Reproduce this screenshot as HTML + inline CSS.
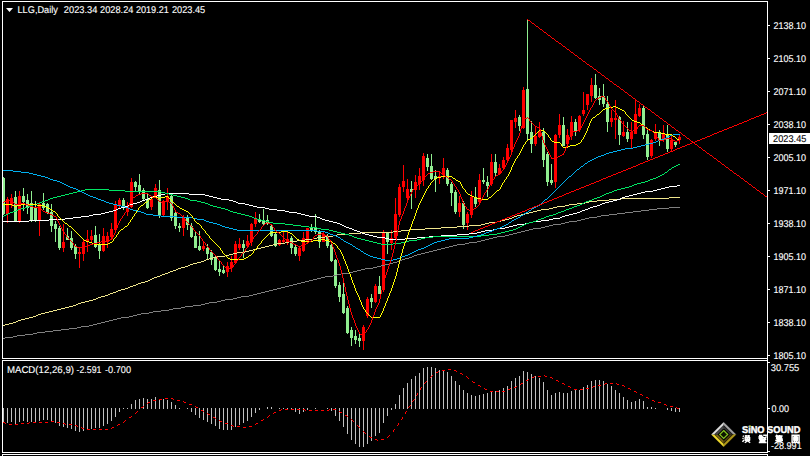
<!DOCTYPE html>
<html><head><meta charset="utf-8"><title>LLG Daily</title>
<style>
html,body{margin:0;padding:0;background:#000;}
body{width:810px;height:456px;overflow:hidden;position:relative;font-family:"Liberation Sans",sans-serif;}
svg{position:absolute;left:0;top:0;}
.t{position:absolute;color:#fff;font-size:9px;line-height:10px;height:10px;white-space:pre;font-family:"Liberation Sans",sans-serif;}
.b{font-weight:bold;}
</style></head><body>
<svg width="810" height="456" viewBox="0 0 810 456" shape-rendering="crispEdges">
<rect width="810" height="456" fill="#000"/>
<defs><clipPath id="cm"><rect x="3" y="2" width="764" height="356"/></clipPath><clipPath id="cd"><rect x="3" y="361" width="764" height="91"/></clipPath></defs>
<g clip-path="url(#cm)">
<path fill="#90ee90" d="M3 177h1v38h-1zM15 191h1v31h-1zM23 188h1v23h-1zM27 194h1v20h-1zM31 191h1v31h-1zM35 201h1v21h-1zM43 193h1v17h-1zM47 203h1v11h-1zM51 204h1v28h-1zM55 221h1v21h-1zM59 226h1v24h-1zM67 228h1v12h-1zM71 231h1v19h-1zM75 244h1v15h-1zM95 226h1v22h-1zM99 234h1v25h-1zM123 198h1v12h-1zM135 181h1v11h-1zM139 174h1v20h-1zM143 188h1v12h-1zM147 194h1v15h-1zM159 180h1v38h-1zM171 195h1v26h-1zM175 212h1v17h-1zM179 223h1v9h-1zM187 215h1v15h-1zM191 223h1v15h-1zM195 232h1v16h-1zM199 231h1v20h-1zM207 244h1v15h-1zM211 250h1v15h-1zM215 255h1v16h-1zM219 260h1v16h-1zM223 266h1v8h-1zM243 240h1v18h-1zM259 214h1v9h-1zM263 209h1v16h-1zM267 215h1v10h-1zM271 224h1v13h-1zM275 232h1v15h-1zM291 236h1v18h-1zM295 245h1v11h-1zM311 224h1v8h-1zM315 214h1v20h-1zM319 230h1v18h-1zM327 234h1v14h-1zM331 244h1v18h-1zM335 259h1v29h-1zM339 282h1v20h-1zM343 281h1v33h-1zM347 306h1v28h-1zM351 327h1v19h-1zM355 330h1v14h-1zM359 333h1v14h-1zM371 294h1v14h-1zM379 276h1v18h-1zM387 232h1v22h-1zM411 181h1v28h-1zM427 154h1v17h-1zM431 154h1v26h-1zM435 170h1v22h-1zM447 168h1v18h-1zM451 182h1v24h-1zM455 190h1v24h-1zM463 201h1v28h-1zM475 187h1v20h-1zM483 168h1v16h-1zM487 176h1v21h-1zM495 154h1v22h-1zM519 115h1v16h-1zM527 19h1v121h-1zM531 121h1v32h-1zM543 128h1v39h-1zM547 152h1v34h-1zM551 164h1v21h-1zM563 117h1v29h-1zM575 119h1v17h-1zM595 74h1v25h-1zM599 88h1v17h-1zM603 84h1v23h-1zM607 96h1v36h-1zM619 116h1v29h-1zM627 122h1v20h-1zM643 106h1v33h-1zM647 130h1v30h-1zM659 130h1v16h-1zM667 125h1v27h-1zM675 141h1v6h-1zM2 178h3v36h-3zM14 197h3v24h-3zM22 196h3v6h-3zM26 200h3v8h-3zM30 203h3v17h-3zM34 208h3v12h-3zM42 203h3v5h-3zM46 204h3v9h-3zM50 212h3v14h-3zM54 224h3v5h-3zM58 228h3v20h-3zM66 236h3v4h-3zM70 238h3v10h-3zM74 246h3v8h-3zM94 235h3v12h-3zM98 245h3v6h-3zM122 200h3v6h-3zM134 182h3v5h-3zM138 185h3v6h-3zM142 190h3v9h-3zM146 199h3v9h-3zM158 190h3v25h-3zM170 196h3v22h-3zM174 213h3v13h-3zM178 226h3v2h-3zM186 218h3v7h-3zM190 226h3v11h-3zM194 236h3v12h-3zM198 246h3v4h-3zM206 248h3v6h-3zM210 252h3v8h-3zM214 258h3v12h-3zM218 269h3v3h-3zM222 270h3v3h-3zM242 244h3v4h-3zM258 219h3v3h-3zM262 220h3v4h-3zM266 220h3v4h-3zM270 226h3v10h-3zM274 234h3v12h-3zM290 238h3v10h-3zM294 247h3v7h-3zM310 228h3v3h-3zM314 228h3v4h-3zM318 232h3v10h-3zM326 236h3v10h-3zM330 245h3v16h-3zM334 260h3v26h-3zM338 285h3v12h-3zM342 294h3v19h-3zM346 308h3v25h-3zM350 330h3v8h-3zM354 336h3v4h-3zM358 338h3v3h-3zM370 298h3v4h-3zM378 286h3v8h-3zM386 232h3v10h-3zM410 189h3v3h-3zM426 158h3v9h-3zM430 166h3v13h-3zM434 176h3v3h-3zM446 170h3v14h-3zM450 184h3v9h-3zM454 192h3v20h-3zM462 203h3v22h-3zM474 198h3v6h-3zM482 180h3v2h-3zM486 182h3v4h-3zM494 162h3v11h-3zM518 117h3v9h-3zM526 89h3v45h-3zM530 132h3v12h-3zM542 132h3v28h-3zM546 154h3v28h-3zM550 180h3v3h-3zM562 125h3v21h-3zM574 122h3v10h-3zM594 85h3v13h-3zM598 96h3v4h-3zM602 96h3v8h-3zM606 104h3v18h-3zM618 117h3v18h-3zM626 132h3v7h-3zM642 108h3v27h-3zM646 134h3v23h-3zM658 132h3v8h-3zM666 134h3v15h-3zM674 142h3v3h-3z"/>
<path fill="#ff0000" d="M7 197h1v26h-1zM11 194h1v14h-1zM19 191h1v32h-1zM39 202h1v34h-1zM63 224h1v28h-1zM79 248h1v20h-1zM83 239h1v22h-1zM87 230h1v22h-1zM91 230h1v12h-1zM103 228h1v24h-1zM107 232h1v16h-1zM111 223h1v16h-1zM115 201h1v31h-1zM119 198h1v10h-1zM127 202h1v14h-1zM131 178h1v30h-1zM151 198h1v12h-1zM155 184h1v14h-1zM163 200h1v17h-1zM167 188h1v22h-1zM183 215h1v21h-1zM203 241h1v10h-1zM227 262h1v15h-1zM231 256h1v16h-1zM235 241h1v23h-1zM239 238h1v12h-1zM247 235h1v13h-1zM251 223h1v23h-1zM255 212h1v15h-1zM279 239h1v7h-1zM283 231h1v12h-1zM287 231h1v14h-1zM299 246h1v15h-1zM303 232h1v20h-1zM307 228h1v15h-1zM323 232h1v10h-1zM363 325h1v25h-1zM367 297h1v21h-1zM375 284h1v19h-1zM383 230h1v62h-1zM391 230h1v20h-1zM395 198h1v42h-1zM399 184h1v33h-1zM403 165h1v27h-1zM407 179h1v21h-1zM415 175h1v23h-1zM419 168h1v22h-1zM423 153h1v33h-1zM439 171h1v13h-1zM443 158h1v21h-1zM459 196h1v21h-1zM467 212h1v18h-1zM471 191h1v27h-1zM479 174h1v30h-1zM491 154h1v32h-1zM499 164h1v11h-1zM503 157h1v13h-1zM507 144h1v18h-1zM511 120h1v32h-1zM515 110h1v18h-1zM523 87h1v42h-1zM535 126h1v20h-1zM539 122h1v16h-1zM555 134h1v54h-1zM559 114h1v24h-1zM567 129h1v18h-1zM571 116h1v24h-1zM579 115h1v17h-1zM583 92h1v24h-1zM587 94h1v16h-1zM591 78h1v24h-1zM611 110h1v17h-1zM615 100h1v39h-1zM623 121h1v16h-1zM631 122h1v26h-1zM635 100h1v34h-1zM639 104h1v13h-1zM651 139h1v19h-1zM655 124h1v17h-1zM663 125h1v17h-1zM671 136h1v16h-1zM679 134h1v10h-1zM6 199h3v15h-3zM10 198h3v7h-3zM18 196h3v26h-3zM38 204h3v17h-3zM62 242h3v6h-3zM78 252h3v2h-3zM82 242h3v12h-3zM86 239h3v3h-3zM90 236h3v4h-3zM102 236h3v15h-3zM106 236h3v6h-3zM110 229h3v8h-3zM114 204h3v26h-3zM118 200h3v6h-3zM126 207h3v5h-3zM130 182h3v25h-3zM150 199h3v8h-3zM154 188h3v8h-3zM162 201h3v14h-3zM166 196h3v6h-3zM182 218h3v10h-3zM202 246h3v3h-3zM226 266h3v6h-3zM230 262h3v6h-3zM234 244h3v19h-3zM238 244h3v4h-3zM246 241h3v5h-3zM250 224h3v18h-3zM254 218h3v6h-3zM278 240h3v5h-3zM282 240h3v2h-3zM286 239h3v3h-3zM298 248h3v8h-3zM302 238h3v13h-3zM306 228h3v14h-3zM322 234h3v8h-3zM362 327h3v14h-3zM366 299h3v17h-3zM374 286h3v16h-3zM382 232h3v58h-3zM390 238h3v5h-3zM394 214h3v24h-3zM398 187h3v28h-3zM402 181h3v6h-3zM406 189h3v9h-3zM414 182h3v8h-3zM418 176h3v8h-3zM422 156h3v24h-3zM438 176h3v2h-3zM442 168h3v7h-3zM458 203h3v9h-3zM466 214h3v9h-3zM470 197h3v18h-3zM478 180h3v22h-3zM490 162h3v22h-3zM498 168h3v6h-3zM502 160h3v8h-3zM506 148h3v12h-3zM510 120h3v30h-3zM514 118h3v4h-3zM522 90h3v38h-3zM534 136h3v8h-3zM538 132h3v5h-3zM554 135h3v47h-3zM558 125h3v10h-3zM566 135h3v9h-3zM570 122h3v14h-3zM578 116h3v14h-3zM582 110h3v4h-3zM586 94h3v11h-3zM590 85h3v11h-3zM610 118h3v4h-3zM614 118h3v2h-3zM622 132h3v4h-3zM630 132h3v7h-3zM634 114h3v20h-3zM638 108h3v8h-3zM650 140h3v16h-3zM654 132h3v7h-3zM662 134h3v6h-3zM670 140h3v9h-3zM678 137h3v3h-3z"/>
<path fill="#808080" d="M669 207h11v1h-11zM657 208h12v1h-12zM649 209h8v1h-8zM641 210h8v1h-8zM633 211h8v1h-8zM625 212h8v1h-8zM617 213h8v1h-8zM609 214h8v1h-8zM601 215h8v1h-8zM597 216h4v1h-4zM589 217h8v1h-8zM585 218h4v1h-4zM581 219h4v1h-4zM577 220h4v1h-4zM569 221h8v1h-8zM565 222h4v1h-4zM561 223h4v1h-4zM553 224h8v1h-8zM549 225h4v1h-4zM545 226h4v1h-4zM541 227h4v1h-4zM533 228h8v1h-8zM529 229h4v1h-4zM525 230h4v1h-4zM521 231h4v1h-4zM517 232h4v1h-4zM513 233h4v1h-4zM509 234h4v1h-4zM505 235h4v1h-4zM497 236h8v1h-8zM493 237h4v1h-4zM489 238h4v1h-4zM485 239h4v1h-4zM481 240h4v1h-4zM477 241h4v1h-4zM469 242h8v1h-8zM465 243h4v1h-4zM457 244h8v1h-8zM453 245h4v1h-4zM449 246h4v1h-4zM445 247h4v1h-4zM441 248h4v1h-4zM437 249h4v1h-4zM433 250h4v1h-4zM429 251h4v1h-4zM425 252h4v1h-4zM421 253h4v1h-4zM417 254h4v1h-4zM414 255h3v1h-3zM412 256h2v1h-2zM409 257h3v1h-3zM405 258h4v1h-4zM402 259h3v1h-3zM400 260h2v1h-2zM397 261h3v1h-3zM393 262h4v1h-4zM389 263h4v1h-4zM385 264h4v1h-4zM381 265h4v1h-4zM377 266h4v1h-4zM373 267h4v1h-4zM365 268h8v1h-8zM361 269h4v1h-4zM357 270h4v1h-4zM353 271h4v1h-4zM349 272h4v1h-4zM341 273h8v1h-8zM337 274h4v1h-4zM333 275h4v1h-4zM325 276h8v1h-8zM321 277h4v1h-4zM317 278h4v1h-4zM313 279h4v1h-4zM309 280h4v1h-4zM305 281h4v1h-4zM301 282h4v1h-4zM297 283h4v1h-4zM293 284h4v1h-4zM289 285h4v1h-4zM285 286h4v1h-4zM281 287h4v1h-4zM277 288h4v1h-4zM273 289h4v1h-4zM269 290h4v1h-4zM265 291h4v1h-4zM261 292h4v1h-4zM257 293h4v1h-4zM253 294h4v1h-4zM249 295h4v1h-4zM241 296h8v1h-8zM237 297h4v1h-4zM233 298h4v1h-4zM225 299h8v1h-8zM221 300h4v1h-4zM217 301h4v1h-4zM209 302h8v1h-8zM205 303h4v1h-4zM201 304h4v1h-4zM193 305h8v1h-8zM185 306h8v1h-8zM181 307h4v1h-4zM173 308h8v1h-8zM169 309h4v1h-4zM161 310h8v1h-8zM153 311h8v1h-8zM149 312h4v1h-4zM141 313h8v1h-8zM137 314h4v1h-4zM133 315h4v1h-4zM129 316h4v1h-4zM121 317h8v1h-8zM117 318h4v1h-4zM113 319h4v1h-4zM109 320h4v1h-4zM105 321h4v1h-4zM101 322h4v1h-4zM97 323h4v1h-4zM93 324h4v1h-4zM89 325h4v1h-4zM81 326h8v1h-8zM77 327h4v1h-4zM69 328h8v1h-8zM61 329h8v1h-8zM53 330h8v1h-8zM45 331h8v1h-8zM37 332h8v1h-8zM33 333h4v1h-4zM25 334h8v1h-8zM17 335h8v1h-8zM13 336h4v1h-4zM5 337h8v1h-8zM3 338h2v1h-2z"/>
<path fill="#f0e68c" d="M669 197h11v1h-11zM621 198h48v1h-48zM609 199h12v1h-12zM597 200h12v1h-12zM589 201h8v1h-8zM585 202h4v1h-4zM577 203h8v1h-8zM569 204h8v1h-8zM565 205h4v1h-4zM557 206h8v1h-8zM553 207h4v1h-4zM549 208h4v1h-4zM541 209h8v1h-8zM537 210h4v1h-4zM533 211h4v1h-4zM529 212h4v1h-4zM525 213h4v1h-4zM521 214h4v1h-4zM517 215h4v1h-4zM514 216h3v1h-3zM512 217h2v1h-2zM509 218h3v1h-3zM505 219h4v1h-4zM501 220h4v1h-4zM497 221h4v1h-4zM489 222h8v1h-8zM485 223h4v1h-4zM481 224h4v1h-4zM469 225h12v1h-12zM457 226h12v1h-12zM441 227h16v1h-16zM425 228h16v1h-16zM409 229h16v1h-16zM401 230h8v1h-8zM393 231h8v1h-8zM361 232h32v1h-32zM349 233h12v1h-12zM337 234h12v1h-12zM333 235h4v1h-4zM325 236h8v1h-8zM317 237h8v1h-8zM313 238h4v1h-4zM305 239h8v1h-8zM297 240h8v1h-8zM289 241h8v1h-8zM285 242h4v1h-4zM277 243h8v1h-8zM273 244h4v1h-4zM269 245h4v1h-4zM265 246h4v1h-4zM261 247h4v1h-4zM257 248h4v1h-4zM253 249h4v1h-4zM249 250h4v1h-4zM245 251h4v1h-4zM237 252h8v1h-8zM233 253h4v1h-4zM229 254h4v1h-4zM225 255h4v1h-4zM217 256h8v1h-8zM213 257h4v1h-4zM209 258h4v1h-4zM206 259h3v1h-3zM204 260h2v1h-2zM201 261h3v1h-3zM197 262h4v1h-4zM193 263h4v1h-4zM190 264h3v1h-3zM188 265h2v1h-2zM185 266h3v1h-3zM181 267h4v1h-4zM178 268h3v1h-3zM176 269h2v1h-2zM173 270h3v1h-3zM170 271h3v1h-3zM168 272h2v1h-2zM165 273h3v1h-3zM162 274h3v1h-3zM160 275h2v1h-2zM157 276h3v1h-3zM154 277h3v1h-3zM152 278h2v1h-2zM150 279h2v1h-2zM148 280h2v1h-2zM145 281h3v1h-3zM141 282h4v1h-4zM138 283h3v1h-3zM136 284h2v1h-2zM133 285h3v1h-3zM130 286h3v1h-3zM128 287h2v1h-2zM125 288h3v1h-3zM121 289h4v1h-4zM118 290h3v1h-3zM116 291h2v1h-2zM113 292h3v1h-3zM110 293h3v1h-3zM108 294h2v1h-2zM105 295h3v1h-3zM101 296h4v1h-4zM98 297h3v1h-3zM96 298h2v1h-2zM93 299h3v1h-3zM89 300h4v1h-4zM85 301h4v1h-4zM81 302h4v1h-4zM78 303h3v1h-3zM76 304h2v1h-2zM73 305h3v1h-3zM69 306h4v1h-4zM65 307h4v1h-4zM61 308h4v1h-4zM57 309h4v1h-4zM53 310h4v1h-4zM49 311h4v1h-4zM45 312h4v1h-4zM41 313h4v1h-4zM38 314h3v1h-3zM36 315h2v1h-2zM33 316h3v1h-3zM29 317h4v1h-4zM25 318h4v1h-4zM21 319h4v1h-4zM18 320h3v1h-3zM16 321h2v1h-2zM13 322h3v1h-3zM9 323h4v1h-4zM5 324h4v1h-4zM3 325h2v1h-2z"/>
<path fill="#ffffff" d="M677 185h3v1h-3zM669 186h8v1h-8zM665 187h4v1h-4zM661 188h4v1h-4zM657 189h4v1h-4zM653 190h4v1h-4zM645 191h8v1h-8zM641 192h4v1h-4zM165 193h24v1h-24zM637 193h4v1h-4zM161 194h4v1h-4zM189 194h16v1h-16zM633 194h4v1h-4zM157 195h4v1h-4zM205 195h4v1h-4zM629 195h4v1h-4zM153 196h4v1h-4zM209 196h4v1h-4zM625 196h4v1h-4zM150 197h3v1h-3zM213 197h4v1h-4zM622 197h3v1h-3zM148 198h2v1h-2zM217 198h4v1h-4zM620 198h2v1h-2zM145 199h3v1h-3zM221 199h8v1h-8zM617 199h3v1h-3zM142 200h3v1h-3zM229 200h4v1h-4zM613 200h4v1h-4zM140 201h2v1h-2zM233 201h3v1h-3zM609 201h4v1h-4zM137 202h3v1h-3zM236 202h2v1h-2zM605 202h4v1h-4zM133 203h4v1h-4zM238 203h7v1h-7zM602 203h3v1h-3zM130 204h3v1h-3zM245 204h4v1h-4zM600 204h2v1h-2zM128 205h2v1h-2zM249 205h4v1h-4zM597 205h3v1h-3zM125 206h3v1h-3zM253 206h4v1h-4zM593 206h4v1h-4zM121 207h4v1h-4zM257 207h8v1h-8zM590 207h3v1h-3zM118 208h3v1h-3zM265 208h4v1h-4zM588 208h2v1h-2zM116 209h2v1h-2zM269 209h8v1h-8zM585 209h3v1h-3zM113 210h3v1h-3zM277 210h8v1h-8zM582 210h3v1h-3zM109 211h4v1h-4zM285 211h4v1h-4zM580 211h2v1h-2zM105 212h4v1h-4zM289 212h8v1h-8zM577 212h3v1h-3zM101 213h4v1h-4zM297 213h4v1h-4zM573 213h4v1h-4zM93 214h8v1h-8zM301 214h4v1h-4zM569 214h4v1h-4zM89 215h4v1h-4zM305 215h4v1h-4zM565 215h4v1h-4zM81 216h8v1h-8zM309 216h8v1h-8zM562 216h3v1h-3zM73 217h8v1h-8zM317 217h3v1h-3zM560 217h2v1h-2zM65 218h8v1h-8zM320 218h2v1h-2zM553 218h7v1h-7zM49 219h16v1h-16zM322 219h3v1h-3zM549 219h4v1h-4zM29 220h20v1h-20zM325 220h4v1h-4zM541 220h8v1h-8zM3 221h26v1h-26zM329 221h4v1h-4zM533 221h8v1h-8zM333 222h4v1h-4zM529 222h4v1h-4zM337 223h3v1h-3zM525 223h4v1h-4zM340 224h2v1h-2zM517 224h8v1h-8zM342 225h2v1h-2zM513 225h4v1h-4zM344 226h2v1h-2zM509 226h4v1h-4zM346 227h3v1h-3zM505 227h4v1h-4zM349 228h3v1h-3zM497 228h8v1h-8zM352 229h2v1h-2zM493 229h4v1h-4zM354 230h3v1h-3zM485 230h8v1h-8zM357 231h3v1h-3zM481 231h4v1h-4zM360 232h2v1h-2zM477 232h4v1h-4zM362 233h3v1h-3zM469 233h8v1h-8zM365 234h4v1h-4zM457 234h12v1h-12zM369 235h4v1h-4zM441 235h16v1h-16zM373 236h4v1h-4zM429 236h12v1h-12zM377 237h8v1h-8zM417 237h12v1h-12zM385 238h4v1h-4zM405 238h12v1h-12zM389 239h16v1h-16z"/>
<path fill="#00e664" d="M678 164h2v1h-2zM676 165h2v1h-2zM674 166h2v1h-2zM672 167h2v1h-2zM671 168h1v1h-1zM669 169h2v1h-2zM668 170h1v1h-1zM667 171h1v1h-1zM665 172h2v1h-2zM664 173h1v1h-1zM662 174h2v1h-2zM660 175h2v1h-2zM658 176h2v1h-2zM656 177h2v1h-2zM653 178h3v1h-3zM650 179h3v1h-3zM648 180h2v1h-2zM645 181h3v1h-3zM641 182h4v1h-4zM637 183h4v1h-4zM634 184h3v1h-3zM632 185h2v1h-2zM629 186h3v1h-3zM625 187h4v1h-4zM621 188h4v1h-4zM85 189h24v1h-24zM617 189h4v1h-4zM81 190h4v1h-4zM109 190h16v1h-16zM614 190h3v1h-3zM77 191h4v1h-4zM125 191h36v1h-36zM612 191h2v1h-2zM73 192h4v1h-4zM161 192h4v1h-4zM609 192h3v1h-3zM69 193h4v1h-4zM165 193h4v1h-4zM606 193h3v1h-3zM65 194h4v1h-4zM169 194h4v1h-4zM604 194h2v1h-2zM61 195h4v1h-4zM173 195h4v1h-4zM602 195h2v1h-2zM57 196h4v1h-4zM177 196h4v1h-4zM600 196h2v1h-2zM53 197h4v1h-4zM181 197h4v1h-4zM597 197h3v1h-3zM50 198h3v1h-3zM185 198h3v1h-3zM594 198h3v1h-3zM48 199h2v1h-2zM188 199h2v1h-2zM592 199h2v1h-2zM45 200h3v1h-3zM190 200h7v1h-7zM589 200h3v1h-3zM42 201h3v1h-3zM197 201h4v1h-4zM586 201h3v1h-3zM40 202h2v1h-2zM201 202h4v1h-4zM584 202h2v1h-2zM37 203h3v1h-3zM205 203h3v1h-3zM582 203h2v1h-2zM33 204h4v1h-4zM208 204h2v1h-2zM580 204h2v1h-2zM30 205h3v1h-3zM210 205h3v1h-3zM577 205h3v1h-3zM28 206h2v1h-2zM213 206h4v1h-4zM574 206h3v1h-3zM25 207h3v1h-3zM217 207h4v1h-4zM572 207h2v1h-2zM21 208h4v1h-4zM221 208h4v1h-4zM569 208h3v1h-3zM18 209h3v1h-3zM225 209h3v1h-3zM566 209h3v1h-3zM16 210h2v1h-2zM228 210h2v1h-2zM564 210h2v1h-2zM13 211h3v1h-3zM230 211h3v1h-3zM561 211h3v1h-3zM10 212h3v1h-3zM233 212h4v1h-4zM558 212h3v1h-3zM8 213h2v1h-2zM237 213h4v1h-4zM556 213h2v1h-2zM6 214h2v1h-2zM241 214h4v1h-4zM553 214h3v1h-3zM4 215h2v1h-2zM245 215h4v1h-4zM549 215h4v1h-4zM3 216h1v1h-1zM249 216h3v1h-3zM546 216h3v1h-3zM252 217h2v1h-2zM544 217h2v1h-2zM254 218h3v1h-3zM541 218h3v1h-3zM257 219h4v1h-4zM538 219h3v1h-3zM261 220h4v1h-4zM536 220h2v1h-2zM265 221h4v1h-4zM533 221h3v1h-3zM269 222h4v1h-4zM529 222h4v1h-4zM273 223h12v1h-12zM526 223h3v1h-3zM285 224h8v1h-8zM524 224h2v1h-2zM293 225h8v1h-8zM522 225h2v1h-2zM301 226h8v1h-8zM520 226h2v1h-2zM309 227h8v1h-8zM518 227h2v1h-2zM317 228h4v1h-4zM516 228h2v1h-2zM321 229h8v1h-8zM513 229h3v1h-3zM329 230h4v1h-4zM509 230h4v1h-4zM333 231h4v1h-4zM505 231h4v1h-4zM337 232h4v1h-4zM501 232h4v1h-4zM341 233h4v1h-4zM497 233h4v1h-4zM345 234h4v1h-4zM489 234h8v1h-8zM349 235h3v1h-3zM481 235h8v1h-8zM352 236h2v1h-2zM433 236h48v1h-48zM354 237h3v1h-3zM425 237h8v1h-8zM357 238h4v1h-4zM421 238h4v1h-4zM361 239h4v1h-4zM417 239h4v1h-4zM365 240h4v1h-4zM409 240h8v1h-8zM369 241h4v1h-4zM405 241h4v1h-4zM373 242h4v1h-4zM401 242h4v1h-4zM377 243h4v1h-4zM393 243h8v1h-8zM381 244h12v1h-12z"/>
<path fill="#00b0f0" d="M673 134h7v1h-7zM670 135h3v1h-3zM668 136h2v1h-2zM666 137h2v1h-2zM664 138h2v1h-2zM661 139h3v1h-3zM658 140h3v1h-3zM656 141h2v1h-2zM653 142h3v1h-3zM649 143h4v1h-4zM645 144h4v1h-4zM641 145h4v1h-4zM637 146h4v1h-4zM633 147h4v1h-4zM625 148h8v1h-8zM621 149h4v1h-4zM617 150h4v1h-4zM613 151h4v1h-4zM609 152h4v1h-4zM606 153h3v1h-3zM604 154h2v1h-2zM601 155h3v1h-3zM598 156h3v1h-3zM596 157h2v1h-2zM594 158h2v1h-2zM592 159h2v1h-2zM590 160h2v1h-2zM588 161h2v1h-2zM587 162h1v1h-1zM585 163h2v1h-2zM584 164h1v1h-1zM583 165h1v1h-1zM581 166h2v1h-2zM580 167h1v1h-1zM579 168h1v1h-1zM577 169h2v1h-2zM3 170h10v1h-10zM576 170h1v1h-1zM13 171h8v1h-8zM575 171h1v1h-1zM21 172h8v1h-8zM574 172h1v1h-1zM29 173h4v1h-4zM573 173h1v1h-1zM33 174h4v1h-4zM572 174h1v1h-1zM37 175h4v1h-4zM571 175h1v1h-1zM41 176h4v1h-4zM569 176h2v1h-2zM45 177h3v1h-3zM568 177h1v1h-1zM48 178h2v1h-2zM567 178h1v1h-1zM50 179h3v1h-3zM566 179h1v1h-1zM53 180h4v1h-4zM565 180h1v1h-1zM57 181h3v1h-3zM564 181h1v1h-1zM60 182h2v1h-2zM563 182h1v1h-1zM62 183h2v1h-2zM562 183h1v1h-1zM64 184h2v1h-2zM561 184h1v1h-1zM66 185h2v1h-2zM560 185h1v1h-1zM68 186h2v1h-2zM559 186h1v1h-1zM70 187h3v1h-3zM558 187h1v1h-1zM73 188h3v1h-3zM557 188h1v1h-1zM76 189h2v1h-2zM556 189h1v1h-1zM78 190h2v1h-2zM555 190h1v1h-1zM80 191h2v1h-2zM554 191h1v1h-1zM82 192h2v1h-2zM553 192h1v1h-1zM84 193h2v1h-2zM552 193h1v1h-1zM86 194h2v1h-2zM551 194h1v1h-1zM88 195h2v1h-2zM550 195h1v1h-1zM90 196h3v1h-3zM549 196h1v1h-1zM93 197h3v1h-3zM548 197h1v1h-1zM96 198h2v1h-2zM547 198h1v1h-1zM98 199h3v1h-3zM545 199h2v1h-2zM101 200h3v1h-3zM544 200h1v1h-1zM104 201h2v1h-2zM543 201h1v1h-1zM106 202h3v1h-3zM542 202h1v1h-1zM109 203h4v1h-4zM541 203h1v1h-1zM113 204h4v1h-4zM540 204h1v1h-1zM117 205h4v1h-4zM538 205h2v1h-2zM121 206h4v1h-4zM536 206h2v1h-2zM125 207h3v1h-3zM534 207h2v1h-2zM128 208h2v1h-2zM532 208h2v1h-2zM130 209h3v1h-3zM531 209h1v1h-1zM133 210h4v1h-4zM529 210h2v1h-2zM137 211h4v1h-4zM528 211h1v1h-1zM141 212h3v1h-3zM526 212h2v1h-2zM144 213h2v1h-2zM524 213h2v1h-2zM146 214h7v1h-7zM523 214h1v1h-1zM153 215h8v1h-8zM521 215h2v1h-2zM161 216h16v1h-16zM520 216h1v1h-1zM177 217h16v1h-16zM518 217h2v1h-2zM193 218h4v1h-4zM516 218h2v1h-2zM197 219h7v1h-7zM514 219h2v1h-2zM204 220h2v1h-2zM512 220h2v1h-2zM206 221h3v1h-3zM511 221h1v1h-1zM209 222h4v1h-4zM509 222h2v1h-2zM213 223h4v1h-4zM508 223h1v1h-1zM217 224h3v1h-3zM506 224h2v1h-2zM220 225h2v1h-2zM504 225h2v1h-2zM222 226h3v1h-3zM502 226h2v1h-2zM225 227h4v1h-4zM500 227h2v1h-2zM229 228h4v1h-4zM497 228h3v1h-3zM233 229h4v1h-4zM494 229h3v1h-3zM237 230h80v1h-80zM492 230h2v1h-2zM317 231h8v1h-8zM489 231h3v1h-3zM325 232h3v1h-3zM486 232h3v1h-3zM328 233h2v1h-2zM484 233h2v1h-2zM330 234h3v1h-3zM481 234h3v1h-3zM333 235h3v1h-3zM477 235h4v1h-4zM336 236h2v1h-2zM473 236h4v1h-4zM338 237h2v1h-2zM469 237h4v1h-4zM340 238h1v1h-1zM449 238h20v1h-20zM341 239h2v1h-2zM445 239h4v1h-4zM343 240h1v1h-1zM441 240h4v1h-4zM344 241h2v1h-2zM437 241h4v1h-4zM346 242h2v1h-2zM434 242h3v1h-3zM348 243h2v1h-2zM432 243h2v1h-2zM350 244h2v1h-2zM430 244h2v1h-2zM352 245h1v1h-1zM428 245h2v1h-2zM353 246h2v1h-2zM426 246h2v1h-2zM355 247h1v1h-1zM424 247h2v1h-2zM356 248h2v1h-2zM421 248h3v1h-3zM358 249h2v1h-2zM418 249h3v1h-3zM360 250h1v1h-1zM416 250h2v1h-2zM361 251h2v1h-2zM414 251h2v1h-2zM363 252h1v1h-1zM412 252h2v1h-2zM364 253h2v1h-2zM410 253h2v1h-2zM366 254h2v1h-2zM408 254h2v1h-2zM368 255h2v1h-2zM405 255h3v1h-3zM370 256h3v1h-3zM402 256h3v1h-3zM373 257h4v1h-4zM400 257h2v1h-2zM377 258h4v1h-4zM397 258h3v1h-3zM381 259h4v1h-4zM393 259h4v1h-4zM385 260h8v1h-8z"/>
<path fill="#ffff00" d="M613 106h3v1h-3zM609 107h4v1h-4zM616 107h2v1h-2zM605 108h4v1h-4zM618 108h2v1h-2zM603 109h2v1h-2zM620 109h2v1h-2zM602 110h1v1h-1zM622 110h2v1h-2zM601 111h1v1h-1zM624 111h1v1h-1zM600 112h1v1h-1zM625 112h1v1h-1zM599 113h1v1h-1zM625 113h1v1h-1zM597 114h2v1h-2zM626 114h1v1h-1zM596 115h1v1h-1zM627 115h1v1h-1zM595 116h1v1h-1zM628 116h1v1h-1zM593 117h2v1h-2zM629 117h1v1h-1zM592 118h1v1h-1zM630 118h1v1h-1zM591 119h1v1h-1zM631 119h1v1h-1zM591 120h1v1h-1zM632 120h2v1h-2zM590 121h1v1h-1zM634 121h3v1h-3zM590 122h1v1h-1zM637 122h3v1h-3zM589 123h1v1h-1zM640 123h1v1h-1zM589 124h1v1h-1zM641 124h2v1h-2zM589 125h1v1h-1zM643 125h1v1h-1zM588 126h1v1h-1zM644 126h1v1h-1zM588 127h1v1h-1zM645 127h2v1h-2zM587 128h1v1h-1zM647 128h1v1h-1zM587 129h1v1h-1zM648 129h2v1h-2zM539 130h5v1h-5zM587 130h1v1h-1zM650 130h2v1h-2zM538 131h1v1h-1zM544 131h1v1h-1zM586 131h1v1h-1zM652 131h2v1h-2zM537 132h1v1h-1zM545 132h1v1h-1zM586 132h1v1h-1zM654 132h7v1h-7zM536 133h1v1h-1zM546 133h1v1h-1zM585 133h1v1h-1zM661 133h4v1h-4zM535 134h1v1h-1zM547 134h1v1h-1zM585 134h1v1h-1zM665 134h7v1h-7zM534 135h1v1h-1zM548 135h1v1h-1zM584 135h1v1h-1zM672 135h1v1h-1zM533 136h1v1h-1zM548 136h1v1h-1zM584 136h1v1h-1zM673 136h2v1h-2zM532 137h1v1h-1zM549 137h1v1h-1zM583 137h1v1h-1zM675 137h1v1h-1zM530 138h2v1h-2zM550 138h1v1h-1zM583 138h1v1h-1zM676 138h1v1h-1zM528 139h2v1h-2zM550 139h1v1h-1zM582 139h1v1h-1zM677 139h2v1h-2zM527 140h1v1h-1zM551 140h1v1h-1zM581 140h1v1h-1zM679 140h1v1h-1zM526 141h1v1h-1zM552 141h2v1h-2zM581 141h1v1h-1zM525 142h1v1h-1zM554 142h6v1h-6zM580 142h1v1h-1zM525 143h1v1h-1zM560 143h1v1h-1zM578 143h2v1h-2zM524 144h1v1h-1zM561 144h1v1h-1zM576 144h2v1h-2zM523 145h1v1h-1zM561 145h1v1h-1zM570 145h6v1h-6zM523 146h1v1h-1zM562 146h1v1h-1zM568 146h2v1h-2zM522 147h1v1h-1zM563 147h5v1h-5zM522 148h1v1h-1zM521 149h1v1h-1zM521 150h1v1h-1zM520 151h1v1h-1zM520 152h1v1h-1zM519 153h1v1h-1zM519 154h1v1h-1zM518 155h1v1h-1zM517 156h1v1h-1zM517 157h1v1h-1zM516 158h1v1h-1zM515 159h1v1h-1zM515 160h1v1h-1zM514 161h1v1h-1zM514 162h1v1h-1zM513 163h1v1h-1zM513 164h1v1h-1zM512 165h1v1h-1zM512 166h1v1h-1zM511 167h1v1h-1zM511 168h1v1h-1zM511 169h1v1h-1zM510 170h1v1h-1zM510 171h1v1h-1zM509 172h1v1h-1zM509 173h1v1h-1zM508 174h1v1h-1zM508 175h1v1h-1zM441 176h11v1h-11zM507 176h1v1h-1zM437 177h4v1h-4zM452 177h1v1h-1zM506 177h1v1h-1zM435 178h2v1h-2zM453 178h2v1h-2zM506 178h1v1h-1zM434 179h1v1h-1zM455 179h1v1h-1zM505 179h1v1h-1zM433 180h1v1h-1zM456 180h2v1h-2zM504 180h1v1h-1zM432 181h1v1h-1zM458 181h2v1h-2zM504 181h1v1h-1zM431 182h1v1h-1zM460 182h1v1h-1zM503 182h1v1h-1zM430 183h1v1h-1zM460 183h1v1h-1zM502 183h1v1h-1zM430 184h1v1h-1zM461 184h1v1h-1zM502 184h1v1h-1zM429 185h1v1h-1zM461 185h1v1h-1zM501 185h1v1h-1zM428 186h1v1h-1zM462 186h1v1h-1zM501 186h1v1h-1zM428 187h1v1h-1zM462 187h1v1h-1zM500 187h1v1h-1zM427 188h1v1h-1zM463 188h1v1h-1zM500 188h1v1h-1zM426 189h1v1h-1zM464 189h1v1h-1zM499 189h1v1h-1zM426 190h1v1h-1zM465 190h1v1h-1zM497 190h2v1h-2zM425 191h1v1h-1zM465 191h1v1h-1zM496 191h1v1h-1zM425 192h1v1h-1zM466 192h1v1h-1zM495 192h1v1h-1zM424 193h1v1h-1zM467 193h1v1h-1zM494 193h1v1h-1zM424 194h1v1h-1zM468 194h2v1h-2zM493 194h1v1h-1zM423 195h1v1h-1zM470 195h2v1h-2zM492 195h1v1h-1zM154 196h2v1h-2zM165 196h3v1h-3zM423 196h1v1h-1zM472 196h2v1h-2zM491 196h1v1h-1zM152 197h2v1h-2zM156 197h2v1h-2zM161 197h4v1h-4zM168 197h1v1h-1zM422 197h1v1h-1zM474 197h3v1h-3zM489 197h2v1h-2zM151 198h1v1h-1zM158 198h3v1h-3zM169 198h1v1h-1zM422 198h1v1h-1zM477 198h4v1h-4zM488 198h1v1h-1zM149 199h2v1h-2zM170 199h1v1h-1zM421 199h1v1h-1zM481 199h7v1h-7zM148 200h1v1h-1zM171 200h1v1h-1zM421 200h1v1h-1zM147 201h1v1h-1zM172 201h1v1h-1zM420 201h1v1h-1zM145 202h2v1h-2zM173 202h1v1h-1zM420 202h1v1h-1zM144 203h1v1h-1zM174 203h1v1h-1zM419 203h1v1h-1zM3 204h9v1h-9zM21 204h16v1h-16zM143 204h1v1h-1zM175 204h1v1h-1zM419 204h1v1h-1zM12 205h2v1h-2zM17 205h4v1h-4zM37 205h7v1h-7zM141 205h2v1h-2zM176 205h1v1h-1zM418 205h1v1h-1zM14 206h3v1h-3zM44 206h2v1h-2zM140 206h1v1h-1zM177 206h2v1h-2zM418 206h1v1h-1zM46 207h2v1h-2zM139 207h1v1h-1zM179 207h1v1h-1zM418 207h1v1h-1zM48 208h2v1h-2zM138 208h1v1h-1zM180 208h2v1h-2zM417 208h1v1h-1zM50 209h2v1h-2zM138 209h1v1h-1zM182 209h2v1h-2zM417 209h1v1h-1zM52 210h1v1h-1zM137 210h1v1h-1zM184 210h2v1h-2zM416 210h1v1h-1zM53 211h2v1h-2zM136 211h1v1h-1zM186 211h2v1h-2zM416 211h1v1h-1zM55 212h1v1h-1zM136 212h1v1h-1zM188 212h1v1h-1zM416 212h1v1h-1zM56 213h1v1h-1zM135 213h1v1h-1zM189 213h1v1h-1zM415 213h1v1h-1zM57 214h1v1h-1zM134 214h1v1h-1zM190 214h1v1h-1zM415 214h1v1h-1zM57 215h1v1h-1zM134 215h1v1h-1zM191 215h1v1h-1zM415 215h1v1h-1zM58 216h1v1h-1zM133 216h1v1h-1zM192 216h1v1h-1zM414 216h1v1h-1zM59 217h1v1h-1zM132 217h1v1h-1zM192 217h1v1h-1zM414 217h1v1h-1zM60 218h1v1h-1zM132 218h1v1h-1zM193 218h1v1h-1zM414 218h1v1h-1zM61 219h1v1h-1zM131 219h1v1h-1zM194 219h1v1h-1zM413 219h1v1h-1zM62 220h1v1h-1zM130 220h1v1h-1zM194 220h1v1h-1zM413 220h1v1h-1zM63 221h1v1h-1zM130 221h1v1h-1zM195 221h1v1h-1zM412 221h1v1h-1zM64 222h1v1h-1zM129 222h1v1h-1zM196 222h1v1h-1zM412 222h1v1h-1zM65 223h2v1h-2zM128 223h1v1h-1zM197 223h2v1h-2zM412 223h1v1h-1zM67 224h1v1h-1zM128 224h1v1h-1zM199 224h1v1h-1zM411 224h1v1h-1zM68 225h1v1h-1zM127 225h1v1h-1zM200 225h1v1h-1zM411 225h1v1h-1zM69 226h2v1h-2zM125 226h2v1h-2zM201 226h1v1h-1zM411 226h1v1h-1zM71 227h1v1h-1zM124 227h1v1h-1zM201 227h1v1h-1zM410 227h1v1h-1zM72 228h1v1h-1zM123 228h1v1h-1zM202 228h1v1h-1zM410 228h1v1h-1zM73 229h1v1h-1zM121 229h2v1h-2zM203 229h1v1h-1zM410 229h1v1h-1zM74 230h1v1h-1zM120 230h1v1h-1zM204 230h1v1h-1zM409 230h1v1h-1zM75 231h1v1h-1zM119 231h1v1h-1zM205 231h1v1h-1zM281 231h7v1h-7zM409 231h1v1h-1zM76 232h1v1h-1zM118 232h1v1h-1zM205 232h1v1h-1zM271 232h10v1h-10zM288 232h2v1h-2zM408 232h1v1h-1zM77 233h1v1h-1zM118 233h1v1h-1zM206 233h1v1h-1zM269 233h2v1h-2zM290 233h2v1h-2zM408 233h1v1h-1zM78 234h1v1h-1zM117 234h1v1h-1zM207 234h1v1h-1zM268 234h1v1h-1zM292 234h1v1h-1zM408 234h1v1h-1zM79 235h1v1h-1zM116 235h1v1h-1zM208 235h1v1h-1zM267 235h1v1h-1zM293 235h1v1h-1zM407 235h1v1h-1zM80 236h1v1h-1zM116 236h1v1h-1zM209 236h1v1h-1zM266 236h1v1h-1zM294 236h1v1h-1zM407 236h1v1h-1zM81 237h1v1h-1zM115 237h1v1h-1zM209 237h1v1h-1zM265 237h1v1h-1zM295 237h1v1h-1zM407 237h1v1h-1zM82 238h1v1h-1zM114 238h1v1h-1zM210 238h1v1h-1zM264 238h1v1h-1zM296 238h1v1h-1zM406 238h1v1h-1zM83 239h1v1h-1zM113 239h1v1h-1zM211 239h1v1h-1zM263 239h1v1h-1zM297 239h2v1h-2zM321 239h4v1h-4zM406 239h1v1h-1zM84 240h2v1h-2zM113 240h1v1h-1zM212 240h1v1h-1zM262 240h1v1h-1zM299 240h2v1h-2zM313 240h8v1h-8zM325 240h4v1h-4zM406 240h1v1h-1zM86 241h3v1h-3zM112 241h1v1h-1zM213 241h1v1h-1zM261 241h1v1h-1zM301 241h12v1h-12zM329 241h3v1h-3zM405 241h1v1h-1zM89 242h3v1h-3zM110 242h2v1h-2zM214 242h1v1h-1zM261 242h1v1h-1zM332 242h1v1h-1zM405 242h1v1h-1zM92 243h2v1h-2zM108 243h2v1h-2zM215 243h1v1h-1zM260 243h1v1h-1zM333 243h2v1h-2zM404 243h1v1h-1zM94 244h14v1h-14zM216 244h1v1h-1zM259 244h1v1h-1zM335 244h1v1h-1zM404 244h1v1h-1zM217 245h1v1h-1zM258 245h1v1h-1zM336 245h1v1h-1zM404 245h1v1h-1zM218 246h1v1h-1zM257 246h1v1h-1zM337 246h1v1h-1zM403 246h1v1h-1zM219 247h1v1h-1zM257 247h1v1h-1zM337 247h1v1h-1zM403 247h1v1h-1zM220 248h1v1h-1zM256 248h1v1h-1zM338 248h1v1h-1zM403 248h1v1h-1zM220 249h1v1h-1zM255 249h1v1h-1zM339 249h1v1h-1zM402 249h1v1h-1zM221 250h1v1h-1zM254 250h1v1h-1zM340 250h1v1h-1zM402 250h1v1h-1zM222 251h1v1h-1zM253 251h1v1h-1zM340 251h1v1h-1zM402 251h1v1h-1zM222 252h1v1h-1zM253 252h1v1h-1zM341 252h1v1h-1zM402 252h1v1h-1zM223 253h1v1h-1zM252 253h1v1h-1zM341 253h1v1h-1zM401 253h1v1h-1zM224 254h1v1h-1zM251 254h1v1h-1zM342 254h1v1h-1zM401 254h1v1h-1zM225 255h1v1h-1zM249 255h2v1h-2zM342 255h1v1h-1zM401 255h1v1h-1zM226 256h1v1h-1zM248 256h1v1h-1zM343 256h1v1h-1zM400 256h1v1h-1zM227 257h1v1h-1zM246 257h2v1h-2zM343 257h1v1h-1zM400 257h1v1h-1zM228 258h2v1h-2zM244 258h2v1h-2zM343 258h1v1h-1zM400 258h1v1h-1zM230 259h14v1h-14zM344 259h1v1h-1zM400 259h1v1h-1zM344 260h1v1h-1zM399 260h1v1h-1zM345 261h1v1h-1zM399 261h1v1h-1zM345 262h1v1h-1zM399 262h1v1h-1zM345 263h1v1h-1zM399 263h1v1h-1zM346 264h1v1h-1zM398 264h1v1h-1zM346 265h1v1h-1zM398 265h1v1h-1zM347 266h1v1h-1zM398 266h1v1h-1zM347 267h1v1h-1zM398 267h1v1h-1zM347 268h1v1h-1zM397 268h1v1h-1zM348 269h1v1h-1zM397 269h1v1h-1zM348 270h1v1h-1zM397 270h1v1h-1zM348 271h1v1h-1zM397 271h1v1h-1zM349 272h1v1h-1zM396 272h1v1h-1zM349 273h1v1h-1zM396 273h1v1h-1zM350 274h1v1h-1zM396 274h1v1h-1zM350 275h1v1h-1zM396 275h1v1h-1zM350 276h1v1h-1zM395 276h1v1h-1zM351 277h1v1h-1zM395 277h1v1h-1zM351 278h1v1h-1zM395 278h1v1h-1zM351 279h1v1h-1zM394 279h1v1h-1zM352 280h1v1h-1zM394 280h1v1h-1zM352 281h1v1h-1zM394 281h1v1h-1zM352 282h1v1h-1zM393 282h1v1h-1zM353 283h1v1h-1zM393 283h1v1h-1zM353 284h1v1h-1zM393 284h1v1h-1zM354 285h1v1h-1zM392 285h1v1h-1zM354 286h1v1h-1zM392 286h1v1h-1zM354 287h1v1h-1zM392 287h1v1h-1zM355 288h1v1h-1zM391 288h1v1h-1zM355 289h1v1h-1zM391 289h1v1h-1zM355 290h1v1h-1zM391 290h1v1h-1zM356 291h1v1h-1zM390 291h1v1h-1zM356 292h1v1h-1zM390 292h1v1h-1zM357 293h1v1h-1zM389 293h1v1h-1zM357 294h1v1h-1zM389 294h1v1h-1zM358 295h1v1h-1zM389 295h1v1h-1zM358 296h1v1h-1zM388 296h1v1h-1zM359 297h1v1h-1zM388 297h1v1h-1zM359 298h1v1h-1zM387 298h1v1h-1zM359 299h1v1h-1zM387 299h1v1h-1zM360 300h1v1h-1zM387 300h1v1h-1zM360 301h1v1h-1zM386 301h1v1h-1zM361 302h1v1h-1zM386 302h1v1h-1zM361 303h1v1h-1zM385 303h1v1h-1zM361 304h1v1h-1zM385 304h1v1h-1zM362 305h1v1h-1zM385 305h1v1h-1zM362 306h1v1h-1zM384 306h1v1h-1zM363 307h1v1h-1zM384 307h1v1h-1zM363 308h1v1h-1zM383 308h1v1h-1zM364 309h1v1h-1zM383 309h1v1h-1zM365 310h1v1h-1zM383 310h1v1h-1zM365 311h1v1h-1zM382 311h1v1h-1zM366 312h1v1h-1zM382 312h1v1h-1zM367 313h1v1h-1zM381 313h1v1h-1zM368 314h1v1h-1zM381 314h1v1h-1zM369 315h1v1h-1zM380 315h1v1h-1zM370 316h1v1h-1zM380 316h1v1h-1zM371 317h9v1h-9z"/>
<path fill="#ff0000" d="M601 96h3v1h-3zM599 97h2v1h-2zM604 97h1v1h-1zM597 98h2v1h-2zM605 98h1v1h-1zM596 99h1v1h-1zM605 99h1v1h-1zM595 100h1v1h-1zM606 100h1v1h-1zM594 101h1v1h-1zM607 101h1v1h-1zM594 102h1v1h-1zM608 102h1v1h-1zM593 103h1v1h-1zM608 103h1v1h-1zM593 104h1v1h-1zM609 104h1v1h-1zM592 105h1v1h-1zM609 105h1v1h-1zM592 106h1v1h-1zM610 106h1v1h-1zM591 107h1v1h-1zM610 107h1v1h-1zM590 108h1v1h-1zM611 108h1v1h-1zM590 109h1v1h-1zM612 109h1v1h-1zM589 110h1v1h-1zM613 110h1v1h-1zM589 111h1v1h-1zM614 111h1v1h-1zM588 112h1v1h-1zM615 112h1v1h-1zM588 113h1v1h-1zM616 113h1v1h-1zM587 114h1v1h-1zM616 114h1v1h-1zM587 115h1v1h-1zM617 115h1v1h-1zM586 116h1v1h-1zM617 116h1v1h-1zM527 117h1v1h-1zM586 117h1v1h-1zM618 117h1v1h-1zM525 118h2v1h-2zM528 118h1v1h-1zM585 118h1v1h-1zM618 118h1v1h-1zM524 119h1v1h-1zM529 119h1v1h-1zM585 119h1v1h-1zM619 119h1v1h-1zM523 120h1v1h-1zM529 120h1v1h-1zM584 120h1v1h-1zM620 120h1v1h-1zM523 121h1v1h-1zM530 121h1v1h-1zM584 121h1v1h-1zM621 121h1v1h-1zM522 122h1v1h-1zM531 122h1v1h-1zM583 122h1v1h-1zM621 122h1v1h-1zM522 123h1v1h-1zM532 123h1v1h-1zM583 123h1v1h-1zM622 123h1v1h-1zM522 124h1v1h-1zM533 124h1v1h-1zM582 124h1v1h-1zM623 124h1v1h-1zM522 125h1v1h-1zM534 125h1v1h-1zM582 125h1v1h-1zM624 125h1v1h-1zM639 125h5v1h-5zM521 126h1v1h-1zM535 126h2v1h-2zM581 126h1v1h-1zM625 126h1v1h-1zM638 126h1v1h-1zM644 126h1v1h-1zM521 127h1v1h-1zM537 127h3v1h-3zM581 127h1v1h-1zM626 127h1v1h-1zM637 127h1v1h-1zM645 127h1v1h-1zM521 128h1v1h-1zM539 128h1v1h-1zM580 128h1v1h-1zM627 128h1v1h-1zM637 128h1v1h-1zM646 128h1v1h-1zM520 129h1v1h-1zM540 129h1v1h-1zM580 129h1v1h-1zM628 129h1v1h-1zM636 129h1v1h-1zM647 129h2v1h-2zM520 130h1v1h-1zM540 130h1v1h-1zM577 130h3v1h-3zM629 130h2v1h-2zM633 130h3v1h-3zM649 130h3v1h-3zM520 131h1v1h-1zM540 131h1v1h-1zM573 131h4v1h-4zM631 131h2v1h-2zM652 131h1v1h-1zM520 132h1v1h-1zM540 132h1v1h-1zM571 132h2v1h-2zM653 132h1v1h-1zM519 133h1v1h-1zM541 133h1v1h-1zM571 133h1v1h-1zM654 133h1v1h-1zM519 134h1v1h-1zM541 134h1v1h-1zM570 134h1v1h-1zM655 134h1v1h-1zM519 135h1v1h-1zM541 135h1v1h-1zM570 135h1v1h-1zM656 135h1v1h-1zM518 136h1v1h-1zM542 136h1v1h-1zM570 136h1v1h-1zM656 136h1v1h-1zM518 137h1v1h-1zM542 137h1v1h-1zM569 137h1v1h-1zM657 137h1v1h-1zM517 138h1v1h-1zM542 138h1v1h-1zM569 138h1v1h-1zM658 138h1v1h-1zM666 138h6v1h-6zM517 139h1v1h-1zM542 139h1v1h-1zM569 139h1v1h-1zM658 139h1v1h-1zM664 139h2v1h-2zM672 139h1v1h-1zM516 140h1v1h-1zM543 140h1v1h-1zM568 140h1v1h-1zM659 140h5v1h-5zM673 140h2v1h-2zM677 140h3v1h-3zM516 141h1v1h-1zM543 141h1v1h-1zM568 141h1v1h-1zM675 141h2v1h-2zM515 142h1v1h-1zM543 142h1v1h-1zM568 142h1v1h-1zM515 143h1v1h-1zM544 143h1v1h-1zM567 143h1v1h-1zM514 144h1v1h-1zM544 144h1v1h-1zM567 144h1v1h-1zM514 145h1v1h-1zM545 145h1v1h-1zM567 145h1v1h-1zM514 146h1v1h-1zM545 146h1v1h-1zM566 146h1v1h-1zM513 147h1v1h-1zM546 147h1v1h-1zM566 147h1v1h-1zM513 148h1v1h-1zM546 148h1v1h-1zM565 148h1v1h-1zM512 149h1v1h-1zM547 149h1v1h-1zM565 149h1v1h-1zM512 150h1v1h-1zM547 150h1v1h-1zM565 150h1v1h-1zM512 151h1v1h-1zM548 151h1v1h-1zM564 151h1v1h-1zM511 152h1v1h-1zM548 152h1v1h-1zM564 152h1v1h-1zM511 153h1v1h-1zM549 153h1v1h-1zM563 153h1v1h-1zM511 154h1v1h-1zM549 154h1v1h-1zM562 154h2v1h-2zM510 155h1v1h-1zM550 155h1v1h-1zM560 155h2v1h-2zM510 156h1v1h-1zM550 156h1v1h-1zM558 156h2v1h-2zM509 157h1v1h-1zM551 157h1v1h-1zM556 157h2v1h-2zM509 158h1v1h-1zM551 158h5v1h-5zM508 159h1v1h-1zM508 160h1v1h-1zM507 161h1v1h-1zM507 162h1v1h-1zM506 163h1v1h-1zM506 164h1v1h-1zM505 165h1v1h-1zM505 166h1v1h-1zM504 167h1v1h-1zM504 168h1v1h-1zM503 169h1v1h-1zM502 170h1v1h-1zM433 171h7v1h-7zM501 171h1v1h-1zM430 172h3v1h-3zM440 172h1v1h-1zM501 172h1v1h-1zM428 173h2v1h-2zM441 173h2v1h-2zM500 173h1v1h-1zM427 174h1v1h-1zM443 174h1v1h-1zM498 174h2v1h-2zM426 175h1v1h-1zM444 175h1v1h-1zM496 175h2v1h-2zM425 176h1v1h-1zM445 176h2v1h-2zM495 176h1v1h-1zM424 177h1v1h-1zM447 177h1v1h-1zM494 177h1v1h-1zM423 178h1v1h-1zM448 178h1v1h-1zM494 178h1v1h-1zM422 179h1v1h-1zM449 179h2v1h-2zM493 179h1v1h-1zM422 180h1v1h-1zM451 180h1v1h-1zM492 180h1v1h-1zM421 181h1v1h-1zM452 181h1v1h-1zM492 181h1v1h-1zM420 182h1v1h-1zM452 182h1v1h-1zM491 182h1v1h-1zM420 183h1v1h-1zM453 183h1v1h-1zM490 183h1v1h-1zM418 184h2v1h-2zM454 184h1v1h-1zM490 184h1v1h-1zM416 185h2v1h-2zM454 185h1v1h-1zM489 185h1v1h-1zM415 186h1v1h-1zM455 186h1v1h-1zM489 186h1v1h-1zM414 187h1v1h-1zM456 187h1v1h-1zM488 187h1v1h-1zM414 188h1v1h-1zM456 188h1v1h-1zM488 188h1v1h-1zM413 189h1v1h-1zM457 189h1v1h-1zM487 189h1v1h-1zM412 190h1v1h-1zM458 190h1v1h-1zM486 190h1v1h-1zM412 191h1v1h-1zM458 191h1v1h-1zM486 191h1v1h-1zM411 192h1v1h-1zM459 192h1v1h-1zM485 192h1v1h-1zM141 193h7v1h-7zM411 193h1v1h-1zM459 193h1v1h-1zM484 193h1v1h-1zM138 194h3v1h-3zM148 194h1v1h-1zM410 194h1v1h-1zM460 194h1v1h-1zM484 194h1v1h-1zM136 195h2v1h-2zM149 195h2v1h-2zM410 195h1v1h-1zM460 195h1v1h-1zM483 195h1v1h-1zM135 196h1v1h-1zM151 196h2v1h-2zM409 196h1v1h-1zM460 196h1v1h-1zM483 196h1v1h-1zM133 197h2v1h-2zM153 197h3v1h-3zM409 197h1v1h-1zM461 197h1v1h-1zM482 197h1v1h-1zM132 198h1v1h-1zM156 198h1v1h-1zM408 198h1v1h-1zM461 198h1v1h-1zM482 198h1v1h-1zM131 199h1v1h-1zM157 199h1v1h-1zM408 199h1v1h-1zM462 199h1v1h-1zM481 199h1v1h-1zM6 200h6v1h-6zM131 200h1v1h-1zM158 200h1v1h-1zM166 200h2v1h-2zM407 200h1v1h-1zM462 200h1v1h-1zM481 200h1v1h-1zM4 201h2v1h-2zM12 201h1v1h-1zM130 201h1v1h-1zM159 201h2v1h-2zM164 201h2v1h-2zM168 201h1v1h-1zM407 201h1v1h-1zM462 201h1v1h-1zM480 201h1v1h-1zM3 202h1v1h-1zM13 202h1v1h-1zM130 202h1v1h-1zM161 202h3v1h-3zM169 202h2v1h-2zM407 202h1v1h-1zM463 202h1v1h-1zM480 202h1v1h-1zM14 203h1v1h-1zM21 203h4v1h-4zM129 203h1v1h-1zM171 203h1v1h-1zM406 203h1v1h-1zM463 203h1v1h-1zM479 203h1v1h-1zM15 204h6v1h-6zM25 204h3v1h-3zM129 204h1v1h-1zM172 204h1v1h-1zM406 204h1v1h-1zM464 204h1v1h-1zM479 204h1v1h-1zM28 205h2v1h-2zM129 205h1v1h-1zM172 205h1v1h-1zM406 205h1v1h-1zM464 205h1v1h-1zM478 205h1v1h-1zM30 206h3v1h-3zM128 206h1v1h-1zM173 206h1v1h-1zM405 206h1v1h-1zM465 206h1v1h-1zM477 206h1v1h-1zM33 207h7v1h-7zM128 207h1v1h-1zM173 207h1v1h-1zM405 207h1v1h-1zM466 207h1v1h-1zM476 207h1v1h-1zM40 208h1v1h-1zM127 208h1v1h-1zM174 208h1v1h-1zM404 208h1v1h-1zM466 208h1v1h-1zM474 208h2v1h-2zM41 209h1v1h-1zM127 209h1v1h-1zM174 209h1v1h-1zM404 209h1v1h-1zM467 209h2v1h-2zM472 209h2v1h-2zM42 210h1v1h-1zM126 210h1v1h-1zM175 210h1v1h-1zM404 210h1v1h-1zM469 210h3v1h-3zM43 211h2v1h-2zM126 211h1v1h-1zM175 211h1v1h-1zM403 211h1v1h-1zM45 212h3v1h-3zM125 212h1v1h-1zM176 212h2v1h-2zM403 212h1v1h-1zM48 213h2v1h-2zM124 213h1v1h-1zM178 213h2v1h-2zM403 213h1v1h-1zM50 214h2v1h-2zM124 214h1v1h-1zM180 214h1v1h-1zM402 214h1v1h-1zM52 215h2v1h-2zM123 215h1v1h-1zM181 215h1v1h-1zM402 215h1v1h-1zM54 216h2v1h-2zM122 216h1v1h-1zM182 216h1v1h-1zM401 216h1v1h-1zM56 217h1v1h-1zM122 217h1v1h-1zM183 217h1v1h-1zM401 217h1v1h-1zM56 218h1v1h-1zM121 218h1v1h-1zM184 218h1v1h-1zM401 218h1v1h-1zM57 219h1v1h-1zM120 219h1v1h-1zM185 219h1v1h-1zM400 219h1v1h-1zM57 220h1v1h-1zM120 220h1v1h-1zM185 220h1v1h-1zM400 220h1v1h-1zM58 221h1v1h-1zM119 221h1v1h-1zM186 221h1v1h-1zM399 221h1v1h-1zM58 222h1v1h-1zM119 222h1v1h-1zM187 222h1v1h-1zM267 222h1v1h-1zM399 222h1v1h-1zM59 223h1v1h-1zM118 223h1v1h-1zM188 223h1v1h-1zM265 223h2v1h-2zM268 223h2v1h-2zM399 223h1v1h-1zM59 224h1v1h-1zM118 224h1v1h-1zM189 224h1v1h-1zM264 224h1v1h-1zM270 224h2v1h-2zM399 224h1v1h-1zM60 225h1v1h-1zM117 225h1v1h-1zM190 225h1v1h-1zM263 225h1v1h-1zM272 225h1v1h-1zM398 225h1v1h-1zM60 226h1v1h-1zM117 226h1v1h-1zM191 226h1v1h-1zM262 226h1v1h-1zM272 226h1v1h-1zM398 226h1v1h-1zM61 227h1v1h-1zM117 227h1v1h-1zM192 227h1v1h-1zM261 227h1v1h-1zM273 227h1v1h-1zM398 227h1v1h-1zM61 228h1v1h-1zM116 228h1v1h-1zM193 228h1v1h-1zM261 228h1v1h-1zM274 228h1v1h-1zM398 228h1v1h-1zM62 229h1v1h-1zM116 229h1v1h-1zM193 229h1v1h-1zM260 229h1v1h-1zM274 229h1v1h-1zM398 229h1v1h-1zM62 230h1v1h-1zM115 230h1v1h-1zM194 230h1v1h-1zM259 230h1v1h-1zM275 230h1v1h-1zM397 230h1v1h-1zM63 231h1v1h-1zM115 231h1v1h-1zM195 231h1v1h-1zM258 231h1v1h-1zM276 231h1v1h-1zM397 231h1v1h-1zM64 232h1v1h-1zM115 232h1v1h-1zM196 232h1v1h-1zM257 232h1v1h-1zM277 232h2v1h-2zM397 232h1v1h-1zM64 233h1v1h-1zM114 233h1v1h-1zM197 233h1v1h-1zM257 233h1v1h-1zM279 233h1v1h-1zM321 233h3v1h-3zM397 233h1v1h-1zM65 234h1v1h-1zM114 234h1v1h-1zM198 234h1v1h-1zM256 234h1v1h-1zM280 234h1v1h-1zM317 234h4v1h-4zM324 234h1v1h-1zM397 234h1v1h-1zM66 235h1v1h-1zM113 235h1v1h-1zM199 235h1v1h-1zM255 235h1v1h-1zM281 235h1v1h-1zM315 235h2v1h-2zM325 235h2v1h-2zM397 235h1v1h-1zM66 236h1v1h-1zM113 236h1v1h-1zM200 236h1v1h-1zM254 236h1v1h-1zM282 236h1v1h-1zM314 236h1v1h-1zM327 236h1v1h-1zM396 236h1v1h-1zM67 237h1v1h-1zM112 237h1v1h-1zM200 237h1v1h-1zM253 237h1v1h-1zM283 237h1v1h-1zM313 237h1v1h-1zM328 237h1v1h-1zM396 237h1v1h-1zM68 238h1v1h-1zM112 238h1v1h-1zM201 238h1v1h-1zM253 238h1v1h-1zM284 238h1v1h-1zM313 238h1v1h-1zM328 238h1v1h-1zM396 238h1v1h-1zM69 239h1v1h-1zM110 239h2v1h-2zM202 239h1v1h-1zM252 239h1v1h-1zM285 239h2v1h-2zM312 239h1v1h-1zM329 239h1v1h-1zM396 239h1v1h-1zM70 240h1v1h-1zM108 240h2v1h-2zM202 240h1v1h-1zM251 240h1v1h-1zM287 240h1v1h-1zM311 240h1v1h-1zM330 240h1v1h-1zM396 240h1v1h-1zM71 241h1v1h-1zM101 241h7v1h-7zM203 241h1v1h-1zM250 241h1v1h-1zM288 241h2v1h-2zM309 241h2v1h-2zM330 241h1v1h-1zM395 241h1v1h-1zM72 242h1v1h-1zM97 242h4v1h-4zM204 242h1v1h-1zM250 242h1v1h-1zM290 242h2v1h-2zM308 242h1v1h-1zM331 242h1v1h-1zM395 242h1v1h-1zM73 243h1v1h-1zM93 243h4v1h-4zM205 243h1v1h-1zM249 243h1v1h-1zM292 243h2v1h-2zM306 243h2v1h-2zM331 243h1v1h-1zM395 243h1v1h-1zM73 244h1v1h-1zM90 244h3v1h-3zM205 244h1v1h-1zM249 244h1v1h-1zM294 244h2v1h-2zM304 244h2v1h-2zM332 244h1v1h-1zM395 244h1v1h-1zM74 245h1v1h-1zM88 245h2v1h-2zM206 245h1v1h-1zM248 245h1v1h-1zM296 245h2v1h-2zM301 245h3v1h-3zM332 245h1v1h-1zM394 245h1v1h-1zM75 246h2v1h-2zM85 246h3v1h-3zM207 246h1v1h-1zM248 246h1v1h-1zM298 246h3v1h-3zM332 246h1v1h-1zM394 246h1v1h-1zM77 247h8v1h-8zM208 247h1v1h-1zM247 247h1v1h-1zM333 247h1v1h-1zM394 247h1v1h-1zM209 248h1v1h-1zM246 248h1v1h-1zM333 248h1v1h-1zM394 248h1v1h-1zM209 249h1v1h-1zM245 249h1v1h-1zM334 249h1v1h-1zM393 249h1v1h-1zM210 250h1v1h-1zM245 250h1v1h-1zM334 250h1v1h-1zM393 250h1v1h-1zM211 251h1v1h-1zM244 251h1v1h-1zM334 251h1v1h-1zM393 251h1v1h-1zM212 252h1v1h-1zM243 252h1v1h-1zM335 252h1v1h-1zM393 252h1v1h-1zM213 253h1v1h-1zM242 253h1v1h-1zM335 253h1v1h-1zM392 253h1v1h-1zM214 254h1v1h-1zM241 254h1v1h-1zM335 254h1v1h-1zM392 254h1v1h-1zM215 255h1v1h-1zM241 255h1v1h-1zM336 255h1v1h-1zM392 255h1v1h-1zM216 256h1v1h-1zM240 256h1v1h-1zM336 256h1v1h-1zM392 256h1v1h-1zM217 257h1v1h-1zM239 257h1v1h-1zM336 257h1v1h-1zM391 257h1v1h-1zM217 258h1v1h-1zM238 258h1v1h-1zM337 258h1v1h-1zM391 258h1v1h-1zM218 259h1v1h-1zM238 259h1v1h-1zM337 259h1v1h-1zM391 259h1v1h-1zM219 260h1v1h-1zM237 260h1v1h-1zM338 260h1v1h-1zM390 260h1v1h-1zM220 261h1v1h-1zM236 261h1v1h-1zM338 261h1v1h-1zM390 261h1v1h-1zM221 262h1v1h-1zM236 262h1v1h-1zM338 262h1v1h-1zM390 262h1v1h-1zM221 263h1v1h-1zM235 263h1v1h-1zM339 263h1v1h-1zM389 263h1v1h-1zM222 264h1v1h-1zM234 264h1v1h-1zM339 264h1v1h-1zM389 264h1v1h-1zM223 265h1v1h-1zM233 265h1v1h-1zM339 265h1v1h-1zM389 265h1v1h-1zM224 266h1v1h-1zM233 266h1v1h-1zM340 266h1v1h-1zM388 266h1v1h-1zM225 267h2v1h-2zM232 267h1v1h-1zM340 267h1v1h-1zM388 267h1v1h-1zM227 268h5v1h-5zM340 268h1v1h-1zM388 268h1v1h-1zM340 269h1v1h-1zM387 269h1v1h-1zM341 270h1v1h-1zM387 270h1v1h-1zM341 271h1v1h-1zM387 271h1v1h-1zM341 272h1v1h-1zM386 272h1v1h-1zM341 273h1v1h-1zM386 273h1v1h-1zM342 274h1v1h-1zM386 274h1v1h-1zM342 275h1v1h-1zM385 275h1v1h-1zM342 276h1v1h-1zM385 276h1v1h-1zM342 277h1v1h-1zM385 277h1v1h-1zM343 278h1v1h-1zM384 278h1v1h-1zM343 279h1v1h-1zM384 279h1v1h-1zM343 280h1v1h-1zM384 280h1v1h-1zM343 281h1v1h-1zM383 281h1v1h-1zM343 282h1v1h-1zM383 282h1v1h-1zM344 283h1v1h-1zM383 283h1v1h-1zM344 284h1v1h-1zM383 284h1v1h-1zM344 285h1v1h-1zM382 285h1v1h-1zM344 286h1v1h-1zM382 286h1v1h-1zM345 287h1v1h-1zM382 287h1v1h-1zM345 288h1v1h-1zM382 288h1v1h-1zM345 289h1v1h-1zM382 289h1v1h-1zM345 290h1v1h-1zM381 290h1v1h-1zM345 291h1v1h-1zM381 291h1v1h-1zM346 292h1v1h-1zM381 292h1v1h-1zM346 293h1v1h-1zM381 293h1v1h-1zM346 294h1v1h-1zM380 294h1v1h-1zM346 295h1v1h-1zM380 295h1v1h-1zM347 296h1v1h-1zM380 296h1v1h-1zM347 297h1v1h-1zM380 297h1v1h-1zM347 298h1v1h-1zM380 298h1v1h-1zM347 299h1v1h-1zM379 299h1v1h-1zM348 300h1v1h-1zM379 300h1v1h-1zM348 301h1v1h-1zM379 301h1v1h-1zM348 302h1v1h-1zM379 302h1v1h-1zM348 303h1v1h-1zM378 303h1v1h-1zM349 304h1v1h-1zM378 304h1v1h-1zM349 305h1v1h-1zM377 305h1v1h-1zM349 306h1v1h-1zM377 306h1v1h-1zM349 307h1v1h-1zM376 307h1v1h-1zM350 308h1v1h-1zM376 308h1v1h-1zM350 309h1v1h-1zM375 309h1v1h-1zM350 310h1v1h-1zM375 310h1v1h-1zM350 311h1v1h-1zM375 311h1v1h-1zM351 312h1v1h-1zM374 312h1v1h-1zM351 313h1v1h-1zM374 313h1v1h-1zM351 314h1v1h-1zM374 314h1v1h-1zM352 315h1v1h-1zM373 315h1v1h-1zM352 316h1v1h-1zM373 316h1v1h-1zM352 317h1v1h-1zM372 317h1v1h-1zM353 318h1v1h-1zM372 318h1v1h-1zM353 319h1v1h-1zM372 319h1v1h-1zM354 320h1v1h-1zM371 320h1v1h-1zM354 321h1v1h-1zM371 321h1v1h-1zM354 322h1v1h-1zM371 322h1v1h-1zM355 323h1v1h-1zM370 323h1v1h-1zM355 324h1v1h-1zM370 324h1v1h-1zM355 325h1v1h-1zM369 325h1v1h-1zM356 326h1v1h-1zM369 326h1v1h-1zM356 327h1v1h-1zM368 327h1v1h-1zM357 328h1v1h-1zM368 328h1v1h-1zM357 329h1v1h-1zM367 329h1v1h-1zM358 330h1v1h-1zM366 330h1v1h-1zM358 331h1v1h-1zM366 331h1v1h-1zM359 332h1v1h-1zM365 332h1v1h-1zM359 333h1v1h-1zM364 333h1v1h-1zM360 334h2v1h-2zM364 334h1v1h-1zM362 335h2v1h-2z"/>
<path fill="#ff0000" d="M527 19h1v1h-1zM528 20h2v1h-2zM530 21h1v1h-1zM531 22h1v1h-1zM532 23h2v1h-2zM534 24h1v1h-1zM535 25h1v1h-1zM536 26h2v1h-2zM538 27h1v1h-1zM539 28h1v1h-1zM540 29h2v1h-2zM542 30h1v1h-1zM543 31h1v1h-1zM544 32h2v1h-2zM546 33h1v1h-1zM547 34h1v1h-1zM548 35h2v1h-2zM550 36h1v1h-1zM551 37h1v1h-1zM552 38h2v1h-2zM554 39h1v1h-1zM555 40h1v1h-1zM556 41h2v1h-2zM558 42h1v1h-1zM559 43h2v1h-2zM561 44h1v1h-1zM562 45h1v1h-1zM563 46h2v1h-2zM565 47h1v1h-1zM566 48h1v1h-1zM567 49h2v1h-2zM569 50h1v1h-1zM570 51h1v1h-1zM571 52h2v1h-2zM573 53h1v1h-1zM574 54h1v1h-1zM575 55h2v1h-2zM577 56h1v1h-1zM578 57h1v1h-1zM579 58h2v1h-2zM581 59h1v1h-1zM582 60h1v1h-1zM583 61h2v1h-2zM585 62h1v1h-1zM586 63h1v1h-1zM587 64h2v1h-2zM589 65h1v1h-1zM590 66h2v1h-2zM592 67h1v1h-1zM593 68h1v1h-1zM594 69h2v1h-2zM596 70h1v1h-1zM597 71h1v1h-1zM598 72h2v1h-2zM600 73h1v1h-1zM601 74h1v1h-1zM602 75h2v1h-2zM604 76h1v1h-1zM605 77h1v1h-1zM606 78h2v1h-2zM608 79h1v1h-1zM609 80h1v1h-1zM610 81h2v1h-2zM612 82h1v1h-1zM613 83h1v1h-1zM614 84h2v1h-2zM616 85h1v1h-1zM617 86h2v1h-2zM619 87h1v1h-1zM620 88h1v1h-1zM621 89h2v1h-2zM623 90h1v1h-1zM624 91h1v1h-1zM625 92h2v1h-2zM627 93h1v1h-1zM628 94h1v1h-1zM629 95h2v1h-2zM631 96h1v1h-1zM632 97h1v1h-1zM633 98h2v1h-2zM635 99h1v1h-1zM636 100h1v1h-1zM637 101h2v1h-2zM639 102h1v1h-1zM640 103h1v1h-1zM641 104h2v1h-2zM643 105h1v1h-1zM644 106h1v1h-1zM645 107h2v1h-2zM647 108h1v1h-1zM648 109h2v1h-2zM650 110h1v1h-1zM651 111h1v1h-1zM652 112h2v1h-2zM654 113h1v1h-1zM655 114h1v1h-1zM656 115h2v1h-2zM658 116h1v1h-1zM659 117h1v1h-1zM660 118h2v1h-2zM662 119h1v1h-1zM663 120h1v1h-1zM664 121h2v1h-2zM666 122h1v1h-1zM667 123h1v1h-1zM668 124h2v1h-2zM670 125h1v1h-1zM671 126h1v1h-1zM672 127h2v1h-2zM674 128h1v1h-1zM675 129h1v1h-1zM676 130h2v1h-2zM678 131h1v1h-1zM679 132h2v1h-2zM681 133h1v1h-1zM682 134h1v1h-1zM683 135h2v1h-2zM685 136h1v1h-1zM686 137h1v1h-1zM687 138h2v1h-2zM689 139h1v1h-1zM690 140h1v1h-1zM691 141h2v1h-2zM693 142h1v1h-1zM694 143h1v1h-1zM695 144h2v1h-2zM697 145h1v1h-1zM698 146h1v1h-1zM699 147h2v1h-2zM701 148h1v1h-1zM702 149h1v1h-1zM703 150h2v1h-2zM705 151h1v1h-1zM706 152h1v1h-1zM707 153h2v1h-2zM709 154h1v1h-1zM710 155h2v1h-2zM712 156h1v1h-1zM713 157h1v1h-1zM714 158h2v1h-2zM716 159h1v1h-1zM717 160h1v1h-1zM718 161h2v1h-2zM720 162h1v1h-1zM721 163h1v1h-1zM722 164h2v1h-2zM724 165h1v1h-1zM725 166h1v1h-1zM726 167h2v1h-2zM728 168h1v1h-1zM729 169h1v1h-1zM730 170h2v1h-2zM732 171h1v1h-1zM733 172h1v1h-1zM734 173h2v1h-2zM736 174h1v1h-1zM737 175h2v1h-2zM739 176h1v1h-1zM740 177h1v1h-1zM741 178h2v1h-2zM743 179h1v1h-1zM744 180h1v1h-1zM745 181h2v1h-2zM747 182h1v1h-1zM748 183h1v1h-1zM749 184h2v1h-2zM751 185h1v1h-1zM752 186h1v1h-1zM753 187h2v1h-2zM755 188h1v1h-1zM756 189h1v1h-1zM757 190h2v1h-2zM759 191h1v1h-1zM760 192h1v1h-1zM761 193h2v1h-2zM763 194h1v1h-1zM764 195h1v1h-1zM765 196h2v1h-2zM767 197h1v1h-1z"/>
<path fill="#ff0000" d="M766 112h2v1h-2zM764 113h2v1h-2zM761 114h3v1h-3zM759 115h2v1h-2zM756 116h3v1h-3zM754 117h2v1h-2zM751 118h3v1h-3zM749 119h2v1h-2zM747 120h2v1h-2zM744 121h3v1h-3zM742 122h2v1h-2zM739 123h3v1h-3zM737 124h2v1h-2zM734 125h3v1h-3zM732 126h2v1h-2zM729 127h3v1h-3zM727 128h2v1h-2zM724 129h3v1h-3zM722 130h2v1h-2zM719 131h3v1h-3zM717 132h2v1h-2zM714 133h3v1h-3zM712 134h2v1h-2zM710 135h2v1h-2zM707 136h3v1h-3zM705 137h2v1h-2zM702 138h3v1h-3zM700 139h2v1h-2zM697 140h3v1h-3zM695 141h2v1h-2zM692 142h3v1h-3zM690 143h2v1h-2zM687 144h3v1h-3zM685 145h2v1h-2zM682 146h3v1h-3zM680 147h2v1h-2zM677 148h3v1h-3zM675 149h2v1h-2zM673 150h2v1h-2zM670 151h3v1h-3zM668 152h2v1h-2zM665 153h3v1h-3zM663 154h2v1h-2zM660 155h3v1h-3zM658 156h2v1h-2zM655 157h3v1h-3zM653 158h2v1h-2zM650 159h3v1h-3zM648 160h2v1h-2zM645 161h3v1h-3zM643 162h2v1h-2zM640 163h3v1h-3zM638 164h2v1h-2zM636 165h2v1h-2zM633 166h3v1h-3zM631 167h2v1h-2zM628 168h3v1h-3zM626 169h2v1h-2zM623 170h3v1h-3zM621 171h2v1h-2zM618 172h3v1h-3zM616 173h2v1h-2zM613 174h3v1h-3zM611 175h2v1h-2zM608 176h3v1h-3zM606 177h2v1h-2zM603 178h3v1h-3zM601 179h2v1h-2zM599 180h2v1h-2zM596 181h3v1h-3zM594 182h2v1h-2zM591 183h3v1h-3zM589 184h2v1h-2zM586 185h3v1h-3zM584 186h2v1h-2zM581 187h3v1h-3zM579 188h2v1h-2zM576 189h3v1h-3zM574 190h2v1h-2zM571 191h3v1h-3zM569 192h2v1h-2zM566 193h3v1h-3zM564 194h2v1h-2zM562 195h2v1h-2zM559 196h3v1h-3zM557 197h2v1h-2zM554 198h3v1h-3zM552 199h2v1h-2zM549 200h3v1h-3zM547 201h2v1h-2zM544 202h3v1h-3zM542 203h2v1h-2zM539 204h3v1h-3zM537 205h2v1h-2zM534 206h3v1h-3zM532 207h2v1h-2zM529 208h3v1h-3zM527 209h2v1h-2zM525 210h2v1h-2zM522 211h3v1h-3zM520 212h2v1h-2zM517 213h3v1h-3zM515 214h2v1h-2zM512 215h3v1h-3zM510 216h2v1h-2zM507 217h3v1h-3zM505 218h2v1h-2zM502 219h3v1h-3zM500 220h2v1h-2zM497 221h3v1h-3zM495 222h2v1h-2zM492 223h3v1h-3zM490 224h2v1h-2zM488 225h2v1h-2zM485 226h3v1h-3zM483 227h2v1h-2zM480 228h3v1h-3zM478 229h2v1h-2zM475 230h3v1h-3zM473 231h2v1h-2zM471 232h2v1h-2z"/>

</g>
<g clip-path="url(#cd)">
<path fill="#c0c0c0" d="M3 408h1v15h-1zM7 408h1v15h-1zM11 408h1v14h-1zM15 408h1v16h-1zM19 408h1v14h-1zM23 408h1v13h-1zM27 408h1v14h-1zM31 408h1v14h-1zM35 408h1v14h-1zM39 408h1v13h-1zM43 408h1v12h-1zM47 408h1v12h-1zM51 408h1v13h-1zM55 408h1v15h-1zM59 408h1v18h-1zM63 408h1v19h-1zM67 408h1v20h-1zM71 408h1v21h-1zM75 408h1v23h-1zM79 408h1v24h-1zM83 408h1v23h-1zM87 408h1v21h-1zM91 408h1v21h-1zM95 408h1v20h-1zM99 408h1v20h-1zM103 408h1v18h-1zM107 408h1v16h-1zM111 408h1v13h-1zM115 408h1v9h-1zM119 408h1v4h-1zM123 408h1v1h-1zM127 408h1v1h-1zM131 404h1v5h-1zM135 400h1v9h-1zM139 399h1v10h-1zM143 398h1v11h-1zM147 399h1v10h-1zM151 399h1v10h-1zM155 397h1v12h-1zM159 399h1v10h-1zM163 399h1v10h-1zM167 400h1v9h-1zM171 402h1v7h-1zM175 405h1v4h-1zM179 408h1v1h-1zM187 408h1v1h-1zM191 408h1v4h-1zM195 408h1v7h-1zM199 408h1v10h-1zM203 408h1v12h-1zM207 408h1v14h-1zM211 408h1v16h-1zM215 408h1v18h-1zM219 408h1v21h-1zM223 408h1v22h-1zM227 408h1v22h-1zM231 408h1v22h-1zM235 408h1v19h-1zM239 408h1v17h-1zM243 408h1v15h-1zM247 408h1v13h-1zM251 408h1v9h-1zM255 408h1v5h-1zM259 408h1v2h-1zM267 407h1v2h-1zM271 407h1v2h-1zM279 408h1v1h-1zM283 408h1v1h-1zM287 408h1v2h-1zM291 408h1v2h-1zM295 408h1v4h-1zM299 408h1v6h-1zM303 408h1v4h-1zM307 408h1v2h-1zM315 408h1v1h-1zM327 408h1v1h-1zM331 408h1v3h-1zM335 408h1v8h-1zM339 408h1v13h-1zM343 408h1v19h-1zM347 408h1v26h-1zM351 408h1v32h-1zM355 408h1v36h-1zM359 408h1v39h-1zM363 408h1v39h-1zM367 408h1v36h-1zM371 408h1v33h-1zM375 408h1v28h-1zM379 408h1v25h-1zM383 408h1v15h-1zM387 408h1v8h-1zM391 408h1v2h-1zM395 404h1v5h-1zM399 395h1v14h-1zM403 388h1v21h-1zM407 383h1v26h-1zM411 379h1v30h-1zM415 376h1v33h-1zM419 373h1v36h-1zM423 368h1v41h-1zM427 367h1v42h-1zM431 367h1v42h-1zM435 368h1v41h-1zM439 370h1v39h-1zM443 371h1v38h-1zM447 372h1v37h-1zM451 376h1v33h-1zM455 381h1v28h-1zM459 385h1v24h-1zM463 390h1v19h-1zM467 393h1v16h-1zM471 395h1v14h-1zM475 396h1v13h-1zM479 395h1v14h-1zM483 394h1v15h-1zM487 393h1v16h-1zM491 392h1v17h-1zM495 391h1v18h-1zM499 390h1v19h-1zM503 388h1v21h-1zM507 386h1v23h-1zM511 381h1v28h-1zM515 378h1v31h-1zM519 376h1v33h-1zM523 371h1v38h-1zM527 372h1v37h-1zM531 374h1v35h-1zM535 376h1v33h-1zM539 378h1v31h-1zM543 382h1v27h-1zM547 390h1v19h-1zM551 395h1v14h-1zM555 393h1v16h-1zM559 392h1v17h-1zM563 393h1v16h-1zM567 393h1v16h-1zM571 391h1v18h-1zM575 390h1v19h-1zM579 390h1v19h-1zM583 387h1v22h-1zM587 385h1v24h-1zM591 381h1v28h-1zM595 380h1v29h-1zM599 380h1v29h-1zM603 381h1v28h-1zM607 384h1v25h-1zM611 386h1v23h-1zM615 390h1v19h-1zM619 393h1v16h-1zM623 397h1v12h-1zM627 400h1v9h-1zM631 402h1v7h-1zM635 401h1v8h-1zM639 399h1v10h-1zM643 401h1v8h-1zM647 407h1v2h-1zM651 407h1v2h-1zM655 408h1v1h-1zM667 408h1v2h-1zM671 408h1v3h-1zM675 408h1v4h-1zM679 408h1v4h-1z"/>
<path fill="#ff0000" d="M448 369h3v1h-3zM442 370h3v1h-3zM454 370h2v1h-2zM438 371h1v1h-1zM456 371h1v1h-1zM436 372h2v1h-2zM460 373h2v1h-2zM462 374h1v1h-1zM432 375h1v1h-1zM544 375h1v1h-1zM431 376h1v1h-1zM466 376h1v1h-1zM534 376h1v1h-1zM538 376h3v1h-3zM545 376h2v1h-2zM430 377h1v1h-1zM467 377h1v1h-1zM532 377h2v1h-2zM550 377h2v1h-2zM468 378h1v1h-1zM552 378h1v1h-1zM528 379h1v1h-1zM526 380h2v1h-2zM556 380h2v1h-2zM426 381h1v1h-1zM472 381h1v1h-1zM558 381h1v1h-1zM425 382h1v1h-1zM473 382h2v1h-2zM424 383h1v1h-1zM521 383h2v1h-2zM562 383h2v1h-2zM605 383h2v1h-2zM610 383h3v1h-3zM616 383h1v1h-1zM520 384h1v1h-1zM564 384h1v1h-1zM604 384h1v1h-1zM617 384h2v1h-2zM478 385h2v1h-2zM598 385h3v1h-3zM622 385h2v1h-2zM480 386h1v1h-1zM516 386h1v1h-1zM568 386h2v1h-2zM593 386h2v1h-2zM624 386h1v1h-1zM421 387h1v1h-1zM514 387h2v1h-2zM570 387h1v1h-1zM592 387h1v1h-1zM420 388h1v1h-1zM484 388h1v1h-1zM510 388h1v1h-1zM586 388h3v1h-3zM628 388h2v1h-2zM420 389h1v1h-1zM485 389h2v1h-2zM508 389h2v1h-2zM574 389h3v1h-3zM580 389h3v1h-3zM630 389h1v1h-1zM490 391h3v1h-3zM496 391h3v1h-3zM502 391h3v1h-3zM634 391h2v1h-2zM636 392h1v1h-1zM417 393h1v1h-1zM417 394h1v1h-1zM640 394h2v1h-2zM416 395h1v1h-1zM642 395h1v1h-1zM646 397h2v1h-2zM165 398h3v1h-3zM171 398h2v1h-2zM648 398h1v1h-1zM159 399h3v1h-3zM173 399h1v1h-1zM414 399h1v1h-1zM153 400h3v1h-3zM177 400h3v1h-3zM413 400h1v1h-1zM652 400h2v1h-2zM183 401h1v1h-1zM412 401h1v1h-1zM654 401h1v1h-1zM148 402h2v1h-2zM184 402h2v1h-2zM658 402h3v1h-3zM147 403h1v1h-1zM189 404h3v1h-3zM664 404h2v1h-2zM410 405h1v1h-1zM666 405h1v1h-1zM143 406h1v1h-1zM195 406h1v1h-1zM409 406h1v1h-1zM670 406h3v1h-3zM141 407h2v1h-2zM196 407h2v1h-2zM408 407h1v1h-1zM676 407h1v1h-1zM677 408h2v1h-2zM281 409h1v1h-1zM285 409h3v1h-3zM291 409h3v1h-3zM297 409h3v1h-3zM303 409h2v1h-2zM329 409h1v1h-1zM333 409h3v1h-3zM201 410h2v1h-2zM279 410h2v1h-2zM305 410h1v1h-1zM309 410h3v1h-3zM315 410h3v1h-3zM321 410h3v1h-3zM327 410h2v1h-2zM137 411h1v1h-1zM203 411h1v1h-1zM339 411h1v1h-1zM406 411h1v1h-1zM136 412h1v1h-1zM274 412h2v1h-2zM340 412h2v1h-2zM405 412h1v1h-1zM135 413h1v1h-1zM207 413h1v1h-1zM273 413h1v1h-1zM405 413h1v1h-1zM208 414h2v1h-2zM269 415h1v1h-1zM345 415h2v1h-2zM131 416h1v1h-1zM268 416h1v1h-1zM347 416h1v1h-1zM129 417h2v1h-2zM213 417h2v1h-2zM267 417h1v1h-1zM402 417h1v1h-1zM215 418h1v1h-1zM402 418h1v1h-1zM263 419h1v1h-1zM351 419h1v1h-1zM401 419h1v1h-1zM125 420h1v1h-1zM219 420h1v1h-1zM261 420h2v1h-2zM352 420h1v1h-1zM51 421h3v1h-3zM124 421h1v1h-1zM220 421h2v1h-2zM353 421h1v1h-1zM3 422h2v1h-2zM29 422h1v1h-1zM33 422h3v1h-3zM39 422h3v1h-3zM45 422h3v1h-3zM57 422h3v1h-3zM123 422h1v1h-1zM5 423h1v1h-1zM21 423h3v1h-3zM27 423h2v1h-2zM63 423h2v1h-2zM225 423h3v1h-3zM256 423h2v1h-2zM398 423h1v1h-1zM9 424h3v1h-3zM15 424h3v1h-3zM65 424h1v1h-1zM69 424h3v1h-3zM118 424h2v1h-2zM255 424h1v1h-1zM398 424h1v1h-1zM75 425h2v1h-2zM117 425h1v1h-1zM231 425h2v1h-2zM357 425h1v1h-1zM397 425h1v1h-1zM77 426h1v1h-1zM233 426h1v1h-1zM237 426h3v1h-3zM249 426h3v1h-3zM358 426h1v1h-1zM81 427h1v1h-1zM112 427h2v1h-2zM243 427h3v1h-3zM359 427h1v1h-1zM82 428h2v1h-2zM111 428h1v1h-1zM87 429h3v1h-3zM93 429h3v1h-3zM99 429h3v1h-3zM105 429h3v1h-3zM394 429h1v1h-1zM393 430h1v1h-1zM363 431h1v1h-1zM393 431h1v1h-1zM364 432h1v1h-1zM365 433h1v1h-1zM389 435h1v1h-1zM369 436h1v1h-1zM388 436h1v1h-1zM370 437h2v1h-2zM387 437h1v1h-1zM375 439h2v1h-2zM381 439h3v1h-3zM377 440h1v1h-1z"/>
</g>
<g fill="#ffffff">
<rect x="2" y="1" width="766" height="1"/>
<rect x="2" y="1" width="1" height="358"/>
<rect x="2" y="358" width="766" height="1"/>
<rect x="767" y="1" width="1" height="452"/>
<rect x="2" y="360" width="766" height="1"/>
<rect x="2" y="360" width="1" height="93"/>
<rect x="2" y="452" width="766" height="1"/>
<rect x="2" y="454" width="766" height="1"/>
<rect x="2" y="454" width="1" height="2"/>
<rect x="767" y="454" width="1" height="2"/>
</g>
<g fill="#ffffff"><rect x="768" y="25" width="2" height="1"/><rect x="768" y="58" width="2" height="1"/><rect x="768" y="91" width="2" height="1"/><rect x="768" y="124" width="2" height="1"/><rect x="768" y="157" width="2" height="1"/><rect x="768" y="190" width="2" height="1"/><rect x="768" y="223" width="2" height="1"/><rect x="768" y="256" width="2" height="1"/><rect x="768" y="289" width="2" height="1"/><rect x="768" y="322" width="2" height="1"/><rect x="768" y="355" width="2" height="1"/><rect x="768" y="362" width="2" height="1"/><rect x="768" y="408" width="2" height="1"/><rect x="768" y="451" width="2" height="1"/></g>
<rect x="769" y="133" width="41" height="11" fill="#fff"/>
<polygon points="6,8 13,8 9.5,12" fill="#fff" shape-rendering="auto"/>
<g shape-rendering="geometricPrecision"><polygon points="723.70,421.90 736.30,434.50 723.70,447.10 711.10,434.50" fill="#000"/><polygon points="723.70,421.90 736.30,434.50 733.00,434.50 723.70,425.20" fill="#8e8e8e"/><polygon points="736.30,434.50 723.70,447.10 723.70,443.80 733.00,434.50" fill="#a08a14"/><polygon points="723.70,447.10 711.10,434.50 714.40,434.50 723.70,443.80" fill="#e2cc22"/><polygon points="711.10,434.50 723.70,421.90 723.70,425.20 714.40,434.50" fill="#c4c4c4"/><polygon points="723.70,422.90 735.30,434.50 734.50,434.50 723.70,423.70" fill="#b8b8b8"/><polygon points="735.30,434.50 723.70,446.10 723.70,445.30 734.50,434.50" fill="#b8a020"/><polygon points="723.70,446.10 712.10,434.50 712.90,434.50 723.70,445.30" fill="#f0dc40"/><polygon points="712.10,434.50 723.70,422.90 723.70,423.70 712.90,434.50" fill="#f0f0f0"/><polygon points="723.70,425.70 732.50,434.50 729.90,434.50 723.70,428.30" fill="#303030"/><polygon points="732.50,434.50 723.70,443.30 723.70,440.70 729.90,434.50" fill="#4a3c0c"/><polygon points="723.70,443.30 714.90,434.50 717.50,434.50 723.70,440.70" fill="#7a6414"/><polygon points="714.90,434.50 723.70,425.70 723.70,428.30 717.50,434.50" fill="#484848"/><polygon points="723.70,430.50 727.70,434.50 723.70,438.50 719.70,434.50" fill="#0c1400" stroke="#86c41e" stroke-width="1.2"/></g>
<path transform="translate(742.2,434.8)" d="M0.6 1l1 .8M0.3 3.2l1 .8M0.4 7.2l1.2-2.2 M2.6 1.2h5.2M3.8 0.2v2M6.4 0.2v2M3 3h4.4v1.6h-4.4zM2.4 5.6h5.6M5.2 3v3l-2.6 2M5.4 6l2.6 2" stroke="#fff" stroke-width="1.45" fill="none" shape-rendering="geometricPrecision"/><path transform="translate(758.6,434.8)" d="M0.4 0.8h3.4M2 0v1.8M0.6 2h3v1.4h-3zM4.6 0.4h3v1.4M4.4 2.4l1.6 1 1.8-1M0.4 4.4h7.4M1.6 4.4v3.4M6.2 4.4v3.4M1.6 5.5h4.6M1.6 6.6h4.6M0.2 7.8h7.8" stroke="#fff" stroke-width="1.45" fill="none" shape-rendering="geometricPrecision"/><path transform="translate(775.0,434.8)" d="M2.2 0l-1.6 2M1.6 1.4v3M1.6 1.2h6M1.6 2.2h5.6M1.6 3.2h5.6M1.6 4.2h6.2M4.6 0.2v4M0.2 5.6h7.8M4 4.4v3.6M4 5.8l-3.4 2M4 5.8l3.6 2" stroke="#fff" stroke-width="1.45" fill="none" shape-rendering="geometricPrecision"/><path transform="translate(791.6,434.8)" d="M0.5 0.5h7v7h-7zM1.8 1.8h4.4M4 1v2M2.2 3h3.6v1.4h-3.6zM1.6 5.4h4.8M5 4.4v2.4M2.6 6l1 .6" stroke="#fff" stroke-width="1.45" fill="none" shape-rendering="geometricPrecision"/>
<g font-family="Liberation Sans, sans-serif" text-rendering="geometricPrecision"><text x="773.4" y="29" font-size="9.8" fill="#fff" stroke="#fff" stroke-width="0.12" textLength="32.5" lengthAdjust="spacingAndGlyphs">2138.10</text><text x="773.4" y="62" font-size="9.8" fill="#fff" stroke="#fff" stroke-width="0.12" textLength="32.5" lengthAdjust="spacingAndGlyphs">2105.10</text><text x="773.4" y="95" font-size="9.8" fill="#fff" stroke="#fff" stroke-width="0.12" textLength="32.5" lengthAdjust="spacingAndGlyphs">2071.10</text><text x="773.4" y="128" font-size="9.8" fill="#fff" stroke="#fff" stroke-width="0.12" textLength="32.5" lengthAdjust="spacingAndGlyphs">2038.10</text><text x="773.4" y="161" font-size="9.8" fill="#fff" stroke="#fff" stroke-width="0.12" textLength="32.5" lengthAdjust="spacingAndGlyphs">2005.10</text><text x="773.4" y="194" font-size="9.8" fill="#fff" stroke="#fff" stroke-width="0.12" textLength="32.5" lengthAdjust="spacingAndGlyphs">1971.10</text><text x="773.4" y="227" font-size="9.8" fill="#fff" stroke="#fff" stroke-width="0.12" textLength="32.5" lengthAdjust="spacingAndGlyphs">1938.10</text><text x="773.4" y="260" font-size="9.8" fill="#fff" stroke="#fff" stroke-width="0.12" textLength="32.5" lengthAdjust="spacingAndGlyphs">1905.10</text><text x="773.4" y="293" font-size="9.8" fill="#fff" stroke="#fff" stroke-width="0.12" textLength="32.5" lengthAdjust="spacingAndGlyphs">1871.10</text><text x="773.4" y="326" font-size="9.8" fill="#fff" stroke="#fff" stroke-width="0.12" textLength="32.5" lengthAdjust="spacingAndGlyphs">1838.10</text><text x="773.4" y="359" font-size="9.8" fill="#fff" stroke="#fff" stroke-width="0.12" textLength="32.5" lengthAdjust="spacingAndGlyphs">1805.10</text><text x="770.7" y="371" font-size="9.8" fill="#fff" stroke="#fff" stroke-width="0.12" textLength="28.6" lengthAdjust="spacingAndGlyphs">30.755</text><text x="771.4" y="412" font-size="9.8" fill="#fff" stroke="#fff" stroke-width="0.12" textLength="17.5" lengthAdjust="spacingAndGlyphs">0.00</text><text x="770.9" y="449" font-size="9.8" fill="#fff" stroke="#fff" stroke-width="0.12" textLength="30.8" lengthAdjust="spacingAndGlyphs">-28.991</text><text x="17.5" y="13" font-size="9.8" fill="#fff" stroke="#fff" stroke-width="0.12" textLength="40.4" lengthAdjust="spacingAndGlyphs">LLG,Daily</text><text x="63.8" y="13" font-size="9.8" fill="#fff" stroke="#fff" stroke-width="0.12" textLength="33.6" lengthAdjust="spacingAndGlyphs">2023.34</text><text x="100.1" y="13" font-size="9.8" fill="#fff" stroke="#fff" stroke-width="0.12" textLength="33.3" lengthAdjust="spacingAndGlyphs">2028.24</text><text x="135.9" y="13" font-size="9.8" fill="#fff" stroke="#fff" stroke-width="0.12" textLength="33.0" lengthAdjust="spacingAndGlyphs">2019.21</text><text x="171.9" y="13" font-size="9.8" fill="#fff" stroke="#fff" stroke-width="0.12" textLength="33.3" lengthAdjust="spacingAndGlyphs">2023.45</text><text x="6.9" y="373" font-size="9.8" fill="#fff" stroke="#fff" stroke-width="0.12" textLength="67.1" lengthAdjust="spacingAndGlyphs">MACD(12,26,9)</text><text x="76.5" y="373" font-size="9.8" fill="#fff" stroke="#fff" stroke-width="0.12" textLength="25.0" lengthAdjust="spacingAndGlyphs">-2.591</text><text x="105.0" y="373" font-size="9.8" fill="#fff" stroke="#fff" stroke-width="0.12" textLength="26.0" lengthAdjust="spacingAndGlyphs">-0.700</text><text x="773.1" y="142" font-size="9.8" fill="#000" stroke="#000" stroke-width="0.1" textLength="33.3" lengthAdjust="spacingAndGlyphs">2023.45</text><g opacity="0.999"><text x="742.0" y="433" font-size="9.8" fill="#fff" stroke="#fff" stroke-width="0.45" font-weight="bold" textLength="58.4" lengthAdjust="spacingAndGlyphs">SiNO SOUND</text><rect x="749.3" y="425.6" width="1.6" height="1.5" fill="#9acd32" shape-rendering="geometricPrecision"/></g></g>
</svg>
</body></html>
